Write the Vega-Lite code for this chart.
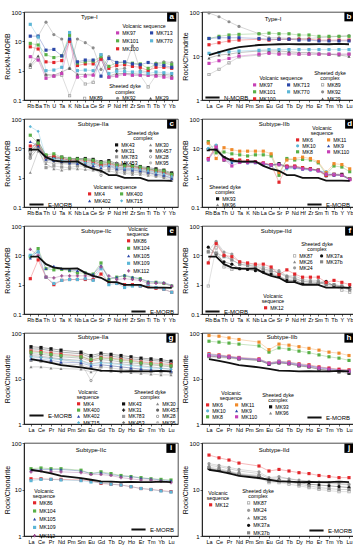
{
"$schema":"https://vega.github.io/schema/vega-lite/v6.json",
"padding":{"left":2,"top":8,"right":0,"bottom":0},
"config":{"font":"Liberation Sans","view":{"stroke":"#000","strokeWidth":0.7},
"axis":{"labelFontSize":6,"titleFontSize":7,"titleFontWeight":"normal","tickSize":2,"tickWidth":0.6,"domainWidth":0.7,"domainColor":"#000","tickColor":"#000","labelColor":"#000","titleColor":"#000","labelPadding":1,"titlePadding":1,"grid":false,"labelOverlap":false},
"axisX":{"labelAngle":0,"labelFontSize":5.5},
"axisY":{"minExtent":13,"maxExtent":13},
"legend":{"labelFontSize":5.2,"titleFontSize":5.2,"titleFontWeight":"normal","symbolSize":10,"labelOffset":2,"rowPadding":0.3,"columnPadding":8,"titlePadding":1,"padding":0,"labelColor":"#000","titleColor":"#000","titleAnchor":"middle","titleLineHeight":5.5,"symbolStrokeWidth":0.4}},
"datasets":{
"emn":[{"e":"Rb","v":9},{"e":"Ba","v":9.05},{"e":"Th","v":5},{"e":"U","v":3.83},{"e":"Ta","v":3.56},{"e":"K","v":3.5},{"e":"Nb","v":3.56},{"e":"La","v":2.52},{"e":"Ce","v":2},{"e":"Sr","v":1.72},{"e":"P","v":1.22},{"e":"Nd","v":1.23},{"e":"Hf","v":0.99},{"e":"Zr","v":0.99},{"e":"Sm","v":0.99},{"e":"Ti","v":0.79},{"e":"Tb","v":0.79},{"e":"Y","v":0.79},{"e":"Yb","v":0.78}],
"emc":[{"e":"La","v":26.6},{"e":"Ce","v":24.5},{"e":"Pr","v":22.1},{"e":"Nd","v":19.7},{"e":"Sm","v":17.6},{"e":"Eu","v":16.2},{"e":"Gd","v":14.9},{"e":"Tb","v":14.7},{"e":"Dy","v":14.4},{"e":"Ho","v":14.5},{"e":"Er","v":14.4},{"e":"Tm","v":14.4},{"e":"Yb","v":14.7},{"e":"Lu","v":14.4}],
"nmc":[{"e":"La","v":10.5},{"e":"Ce","v":12.2},{"e":"Pr","v":14.2},{"e":"Nd","v":16},{"e":"Sm","v":17.8},{"e":"Eu","v":18.1},{"e":"Gd","v":18.5},{"e":"Tb","v":18.6},{"e":"Dy","v":18.5},{"e":"Ho","v":18.5},{"e":"Er","v":18.6},{"e":"Tm","v":18.5},{"e":"Yb","v":18.9},{"e":"Lu","v":18.5}],
"a":[
{"s":"MK97","e":"Rb","v":3},{"s":"MK97","e":"Ba","v":2.3},{"s":"MK97","e":"Th","v":0.55},{"s":"MK97","e":"U","v":0.65},{"s":"MK97","e":"Ta","v":0.8},{"s":"MK97","e":"K","v":11},{"s":"MK97","e":"Nb","v":0.6},{"s":"MK97","e":"La","v":0.65},{"s":"MK97","e":"Ce","v":0.7},{"s":"MK97","e":"Sr","v":2.5},{"s":"MK97","e":"P","v":0.6},{"s":"MK97","e":"Nd","v":0.65},{"s":"MK97","e":"Hf","v":0.75},{"s":"MK97","e":"Zr","v":0.7},{"s":"MK97","e":"Sm","v":0.7},{"s":"MK97","e":"Ti","v":0.7},{"s":"MK97","e":"Tb","v":0.65},{"s":"MK97","e":"Y","v":0.6},{"s":"MK97","e":"Yb","v":0.55},
{"s":"MK100","e":"Rb","v":6.5},{"s":"MK100","e":"Ba","v":5.5},{"s":"MK100","e":"Th","v":2},{"s":"MK100","e":"U","v":1.9},{"s":"MK100","e":"Ta","v":2.2},{"s":"MK100","e":"K","v":10},{"s":"MK100","e":"Nb","v":1.5},{"s":"MK100","e":"La","v":1.7},{"s":"MK100","e":"Ce","v":1.7},{"s":"MK100","e":"Sr","v":2.5},{"s":"MK100","e":"P","v":1.2},{"s":"MK100","e":"Nd","v":1.5},{"s":"MK100","e":"Hf","v":1.6},{"s":"MK100","e":"Zr","v":1.4},{"s":"MK100","e":"Sm","v":1.3},{"s":"MK100","e":"Ti","v":1},{"s":"MK100","e":"Tb","v":1.3},{"s":"MK100","e":"Y","v":1.3},{"s":"MK100","e":"Yb","v":1.2},
{"s":"MK101","e":"Rb","v":8.5},{"s":"MK101","e":"Ba","v":7.5},{"s":"MK101","e":"Th","v":3.5},{"s":"MK101","e":"U","v":2.8},{"s":"MK101","e":"Ta","v":3.2},{"s":"MK101","e":"K","v":16},{"s":"MK101","e":"Nb","v":1.8},{"s":"MK101","e":"La","v":2},{"s":"MK101","e":"Ce","v":2.1},{"s":"MK101","e":"Sr","v":3},{"s":"MK101","e":"P","v":1.4},{"s":"MK101","e":"Nd","v":1.9},{"s":"MK101","e":"Hf","v":1.9},{"s":"MK101","e":"Zr","v":1.8},{"s":"MK101","e":"Sm","v":1.7},{"s":"MK101","e":"Ti","v":1.2},{"s":"MK101","e":"Tb","v":1.7},{"s":"MK101","e":"Y","v":1.8},{"s":"MK101","e":"Yb","v":1.6},
{"s":"MK713","e":"Rb","v":15},{"s":"MK713","e":"Ba","v":15},{"s":"MK713","e":"Th","v":5},{"s":"MK713","e":"U","v":5.3},{"s":"MK713","e":"Ta","v":3.2},{"s":"MK713","e":"K","v":12},{"s":"MK713","e":"Nb","v":2},{"s":"MK713","e":"La","v":2.3},{"s":"MK713","e":"Ce","v":2.3},{"s":"MK713","e":"Sr","v":0.65},{"s":"MK713","e":"P","v":2.6},{"s":"MK713","e":"Nd","v":1.9},{"s":"MK713","e":"Hf","v":2},{"s":"MK713","e":"Zr","v":1.7},{"s":"MK713","e":"Sm","v":1.6},{"s":"MK713","e":"Ti","v":1.9},{"s":"MK713","e":"Tb","v":1.6},{"s":"MK713","e":"Y","v":1.5},{"s":"MK713","e":"Yb","v":1.3},
{"s":"MK770","e":"Rb","v":38},{"s":"MK770","e":"Ba","v":14},{"s":"MK770","e":"Th","v":1},{"s":"MK770","e":"U","v":1.05},{"s":"MK770","e":"Ta","v":1.3},{"s":"MK770","e":"K","v":20},{"s":"MK770","e":"Nb","v":1},{"s":"MK770","e":"La","v":1.05},{"s":"MK770","e":"Ce","v":1},{"s":"MK770","e":"Sr","v":3.5},{"s":"MK770","e":"P","v":0.8},{"s":"MK770","e":"Nd","v":0.95},{"s":"MK770","e":"Hf","v":0.95},{"s":"MK770","e":"Zr","v":0.9},{"s":"MK770","e":"Sm","v":0.9},{"s":"MK770","e":"Ti","v":0.8},{"s":"MK770","e":"Tb","v":0.9},{"s":"MK770","e":"Y","v":0.85},{"s":"MK770","e":"Yb","v":0.8},
{"s":"MK89","e":"Rb","v":1.3},{"s":"MK89","e":"Ba","v":2.5},{"s":"MK89","e":"Th","v":0.7},{"s":"MK89","e":"U","v":0.65},{"s":"MK89","e":"Ta","v":0.7},{"s":"MK89","e":"K","v":0.14},{"s":"MK89","e":"Nb","v":0.7},{"s":"MK89","e":"La","v":0.35},{"s":"MK89","e":"Ce","v":0.4},{"s":"MK89","e":"Sr","v":3.5},{"s":"MK89","e":"P","v":0.6},{"s":"MK89","e":"Nd","v":0.7},{"s":"MK89","e":"Hf","v":0.8},{"s":"MK89","e":"Zr","v":0.7},{"s":"MK89","e":"Sm","v":0.7},{"s":"MK89","e":"Ti","v":0.28},{"s":"MK89","e":"Tb","v":0.7},{"s":"MK89","e":"Y","v":0.7},{"s":"MK89","e":"Yb","v":0.6},
{"s":"MK92","e":"Rb","v":1.6},{"s":"MK92","e":"Ba","v":15},{"s":"MK92","e":"Th","v":45},{"s":"MK92","e":"U","v":17},{"s":"MK92","e":"Ta","v":12},{"s":"MK92","e":"K","v":1.2},{"s":"MK92","e":"Nb","v":12},{"s":"MK92","e":"La","v":9},{"s":"MK92","e":"Ce","v":6},{"s":"MK92","e":"Sr","v":1.1},{"s":"MK92","e":"P","v":3},{"s":"MK92","e":"Nd","v":1.1},{"s":"MK92","e":"Hf","v":1.2},{"s":"MK92","e":"Zr","v":7},{"s":"MK92","e":"Sm","v":1},{"s":"MK92","e":"Ti","v":0.9},{"s":"MK92","e":"Tb","v":1.8},{"s":"MK92","e":"Y","v":2},{"s":"MK92","e":"Yb","v":1.9},
{"s":"MK29","e":"Rb","v":1.5},{"s":"MK29","e":"Ba","v":3.2},{"s":"MK29","e":"Th","v":0.75},{"s":"MK29","e":"U","v":0.7},{"s":"MK29","e":"Ta","v":0.9},{"s":"MK29","e":"K","v":1.2},{"s":"MK29","e":"Nb","v":0.75},{"s":"MK29","e":"La","v":0.75},{"s":"MK29","e":"Ce","v":0.75},{"s":"MK29","e":"Sr","v":2.5},{"s":"MK29","e":"P","v":0.65},{"s":"MK29","e":"Nd","v":0.8},{"s":"MK29","e":"Hf","v":0.8},{"s":"MK29","e":"Zr","v":0.8},{"s":"MK29","e":"Sm","v":0.75},{"s":"MK29","e":"Ti","v":0.7},{"s":"MK29","e":"Tb","v":0.75},{"s":"MK29","e":"Y","v":0.75},{"s":"MK29","e":"Yb","v":0.7}],
"b":[
{"s":"MK97","e":"La","v":6.8},{"s":"MK97","e":"Ce","v":7.8},{"s":"MK97","e":"Pr","v":8.8},{"s":"MK97","e":"Nd","v":10},{"s":"MK97","e":"Sm","v":11},{"s":"MK97","e":"Eu","v":11.5},{"s":"MK97","e":"Gd","v":11},{"s":"MK97","e":"Tb","v":11},{"s":"MK97","e":"Dy","v":11},{"s":"MK97","e":"Ho","v":11},{"s":"MK97","e":"Er","v":11},{"s":"MK97","e":"Tm","v":11},{"s":"MK97","e":"Yb","v":11},{"s":"MK97","e":"Lu","v":11},
{"s":"MK100","e":"La","v":18},{"s":"MK100","e":"Ce","v":20},{"s":"MK100","e":"Pr","v":22},{"s":"MK100","e":"Nd","v":23},{"s":"MK100","e":"Sm","v":24},{"s":"MK100","e":"Eu","v":23},{"s":"MK100","e":"Gd","v":24},{"s":"MK100","e":"Tb","v":24},{"s":"MK100","e":"Dy","v":24},{"s":"MK100","e":"Ho","v":24},{"s":"MK100","e":"Er","v":23},{"s":"MK100","e":"Tm","v":23},{"s":"MK100","e":"Yb","v":23},{"s":"MK100","e":"Lu","v":23},
{"s":"MK101","e":"La","v":25},{"s":"MK101","e":"Ce","v":28},{"s":"MK101","e":"Pr","v":30},{"s":"MK101","e":"Nd","v":31},{"s":"MK101","e":"Sm","v":32},{"s":"MK101","e":"Eu","v":33},{"s":"MK101","e":"Gd","v":32},{"s":"MK101","e":"Tb","v":32},{"s":"MK101","e":"Dy","v":30},{"s":"MK101","e":"Ho","v":30},{"s":"MK101","e":"Er","v":28},{"s":"MK101","e":"Tm","v":28},{"s":"MK101","e":"Yb","v":28},{"s":"MK101","e":"Lu","v":28},
{"s":"MK713","e":"La","v":25},{"s":"MK713","e":"Ce","v":26},{"s":"MK713","e":"Pr","v":26},{"s":"MK713","e":"Nd","v":26},{"s":"MK713","e":"Sm","v":25},{"s":"MK713","e":"Eu","v":24},{"s":"MK713","e":"Gd","v":24},{"s":"MK713","e":"Tb","v":24},{"s":"MK713","e":"Dy","v":23},{"s":"MK713","e":"Ho","v":23},{"s":"MK713","e":"Er","v":22},{"s":"MK713","e":"Tm","v":22},{"s":"MK713","e":"Yb","v":22},{"s":"MK713","e":"Lu","v":22},
{"s":"MK770","e":"La","v":11.5},{"s":"MK770","e":"Ce","v":12},{"s":"MK770","e":"Pr","v":12.5},{"s":"MK770","e":"Nd","v":13},{"s":"MK770","e":"Sm","v":13.5},{"s":"MK770","e":"Eu","v":14},{"s":"MK770","e":"Gd","v":14},{"s":"MK770","e":"Tb","v":14},{"s":"MK770","e":"Dy","v":14},{"s":"MK770","e":"Ho","v":14},{"s":"MK770","e":"Er","v":14},{"s":"MK770","e":"Tm","v":14},{"s":"MK770","e":"Yb","v":14},{"s":"MK770","e":"Lu","v":14},
{"s":"MK89","e":"La","v":3.8},{"s":"MK89","e":"Ce","v":5},{"s":"MK89","e":"Pr","v":7},{"s":"MK89","e":"Nd","v":9.5},{"s":"MK89","e":"Sm","v":10.5},{"s":"MK89","e":"Eu","v":12},{"s":"MK89","e":"Gd","v":11.5},{"s":"MK89","e":"Tb","v":11.5},{"s":"MK89","e":"Dy","v":11},{"s":"MK89","e":"Ho","v":11},{"s":"MK89","e":"Er","v":11},{"s":"MK89","e":"Tm","v":11},{"s":"MK89","e":"Yb","v":11},{"s":"MK89","e":"Lu","v":11},
{"s":"MK92","e":"La","v":95},{"s":"MK92","e":"Ce","v":78},{"s":"MK92","e":"Pr","v":60},{"s":"MK92","e":"Nd","v":47},{"s":"MK92","e":"Sm","v":32},{"s":"MK92","e":"Eu","v":26},{"s":"MK92","e":"Gd","v":26},{"s":"MK92","e":"Tb","v":25},{"s":"MK92","e":"Dy","v":25},{"s":"MK92","e":"Ho","v":25},{"s":"MK92","e":"Er","v":26},{"s":"MK92","e":"Tm","v":27},{"s":"MK92","e":"Yb","v":28},{"s":"MK92","e":"Lu","v":29},
{"s":"MK29","e":"La","v":9},{"s":"MK29","e":"Ce","v":10.5},{"s":"MK29","e":"Pr","v":11},{"s":"MK29","e":"Nd","v":12},{"s":"MK29","e":"Sm","v":13},{"s":"MK29","e":"Eu","v":13},{"s":"MK29","e":"Gd","v":13},{"s":"MK29","e":"Tb","v":12.5},{"s":"MK29","e":"Dy","v":12},{"s":"MK29","e":"Ho","v":12},{"s":"MK29","e":"Er","v":11.5},{"s":"MK29","e":"Tm","v":11},{"s":"MK29","e":"Yb","v":10.5},{"s":"MK29","e":"Lu","v":9.8}],
"c":[
{"s":"MK43","e":"Rb","v":9},{"s":"MK43","e":"Ba","v":18},{"s":"MK43","e":"Th","v":5.5},{"s":"MK43","e":"U","v":5},{"s":"MK43","e":"Ta","v":5},{"s":"MK43","e":"K","v":4.5},{"s":"MK43","e":"Nb","v":4.5},{"s":"MK43","e":"La","v":4.5},{"s":"MK43","e":"Ce","v":4.2},{"s":"MK43","e":"Sr","v":3.5},{"s":"MK43","e":"P","v":3.8},{"s":"MK43","e":"Nd","v":3},{"s":"MK43","e":"Hf","v":2.8},{"s":"MK43","e":"Zr","v":2.6},{"s":"MK43","e":"Sm","v":2.4},{"s":"MK43","e":"Ti","v":2.2},{"s":"MK43","e":"Tb","v":2},{"s":"MK43","e":"Y","v":1.8},{"s":"MK43","e":"Yb","v":1.45},
{"s":"MK31","e":"Rb","v":8},{"s":"MK31","e":"Ba","v":14},{"s":"MK31","e":"Th","v":5},{"s":"MK31","e":"U","v":4.5},{"s":"MK31","e":"Ta","v":4.5},{"s":"MK31","e":"K","v":4},{"s":"MK31","e":"Nb","v":4.2},{"s":"MK31","e":"La","v":4},{"s":"MK31","e":"Ce","v":3.8},{"s":"MK31","e":"Sr","v":3},{"s":"MK31","e":"P","v":3.3},{"s":"MK31","e":"Nd","v":2.7},{"s":"MK31","e":"Hf","v":2.5},{"s":"MK31","e":"Zr","v":2.4},{"s":"MK31","e":"Sm","v":2.2},{"s":"MK31","e":"Ti","v":2},{"s":"MK31","e":"Tb","v":1.8},{"s":"MK31","e":"Y","v":1.6},{"s":"MK31","e":"Yb","v":1.35},
{"s":"MK783","e":"Rb","v":5},{"s":"MK783","e":"Ba","v":10},{"s":"MK783","e":"Th","v":2.2},{"s":"MK783","e":"U","v":2.5},{"s":"MK783","e":"Ta","v":2.3},{"s":"MK783","e":"K","v":2.2},{"s":"MK783","e":"Nb","v":2.5},{"s":"MK783","e":"La","v":2.4},{"s":"MK783","e":"Ce","v":2.2},{"s":"MK783","e":"Sr","v":1.8},{"s":"MK783","e":"P","v":2},{"s":"MK783","e":"Nd","v":1.8},{"s":"MK783","e":"Hf","v":1.6},{"s":"MK783","e":"Zr","v":1.5},{"s":"MK783","e":"Sm","v":1.5},{"s":"MK783","e":"Ti","v":1.4},{"s":"MK783","e":"Tb","v":1.2},{"s":"MK783","e":"Y","v":1.1},{"s":"MK783","e":"Yb","v":0.9},
{"s":"MK453","e":"Rb","v":6},{"s":"MK453","e":"Ba","v":12},{"s":"MK453","e":"Th","v":4},{"s":"MK453","e":"U","v":3.5},{"s":"MK453","e":"Ta","v":3.2},{"s":"MK453","e":"K","v":3},{"s":"MK453","e":"Nb","v":3.2},{"s":"MK453","e":"La","v":3},{"s":"MK453","e":"Ce","v":2.8},{"s":"MK453","e":"Sr","v":2.5},{"s":"MK453","e":"P","v":2.6},{"s":"MK453","e":"Nd","v":2.2},{"s":"MK453","e":"Hf","v":2},{"s":"MK453","e":"Zr","v":1.9},{"s":"MK453","e":"Sm","v":1.8},{"s":"MK453","e":"Ti","v":1.6},{"s":"MK453","e":"Tb","v":1.5},{"s":"MK453","e":"Y","v":1.4},{"s":"MK453","e":"Yb","v":1.1},
{"s":"MK30","e":"Rb","v":1.5},{"s":"MK30","e":"Ba","v":8},{"s":"MK30","e":"Th","v":3},{"s":"MK30","e":"U","v":2},{"s":"MK30","e":"Ta","v":1.8},{"s":"MK30","e":"K","v":2},{"s":"MK30","e":"Nb","v":2},{"s":"MK30","e":"La","v":1.9},{"s":"MK30","e":"Ce","v":1.8},{"s":"MK30","e":"Sr","v":1.6},{"s":"MK30","e":"P","v":1.7},{"s":"MK30","e":"Nd","v":1.5},{"s":"MK30","e":"Hf","v":1.4},{"s":"MK30","e":"Zr","v":1.3},{"s":"MK30","e":"Sm","v":1.3},{"s":"MK30","e":"Ti","v":1.2},{"s":"MK30","e":"Tb","v":1.1},{"s":"MK30","e":"Y","v":1},{"s":"MK30","e":"Yb","v":0.8},
{"s":"MK457","e":"Rb","v":7},{"s":"MK457","e":"Ba","v":13},{"s":"MK457","e":"Th","v":4.5},{"s":"MK457","e":"U","v":4},{"s":"MK457","e":"Ta","v":3.8},{"s":"MK457","e":"K","v":3.5},{"s":"MK457","e":"Nb","v":3.6},{"s":"MK457","e":"La","v":3.4},{"s":"MK457","e":"Ce","v":3.1},{"s":"MK457","e":"Sr","v":2.8},{"s":"MK457","e":"P","v":2.9},{"s":"MK457","e":"Nd","v":2.4},{"s":"MK457","e":"Hf","v":2.2},{"s":"MK457","e":"Zr","v":2.1},{"s":"MK457","e":"Sm","v":2},{"s":"MK457","e":"Ti","v":1.8},{"s":"MK457","e":"Tb","v":1.6},{"s":"MK457","e":"Y","v":1.5},{"s":"MK457","e":"Yb","v":1.2},
{"s":"MK28","e":"Rb","v":4.5},{"s":"MK28","e":"Ba","v":11},{"s":"MK28","e":"Th","v":3.5},{"s":"MK28","e":"U","v":3},{"s":"MK28","e":"Ta","v":3},{"s":"MK28","e":"K","v":2.8},{"s":"MK28","e":"Nb","v":2.8},{"s":"MK28","e":"La","v":2.6},{"s":"MK28","e":"Ce","v":2.3},{"s":"MK28","e":"Sr","v":1.2},{"s":"MK28","e":"P","v":2.2},{"s":"MK28","e":"Nd","v":2},{"s":"MK28","e":"Hf","v":1.8},{"s":"MK28","e":"Zr","v":1.7},{"s":"MK28","e":"Sm","v":1.6},{"s":"MK28","e":"Ti","v":1.5},{"s":"MK28","e":"Tb","v":1.3},{"s":"MK28","e":"Y","v":1.2},{"s":"MK28","e":"Yb","v":1},
{"s":"MK95","e":"Rb","v":7.5},{"s":"MK95","e":"Ba","v":15},{"s":"MK95","e":"Th","v":4.8},{"s":"MK95","e":"U","v":4.2},{"s":"MK95","e":"Ta","v":4},{"s":"MK95","e":"K","v":3.8},{"s":"MK95","e":"Nb","v":3.9},{"s":"MK95","e":"La","v":3.7},{"s":"MK95","e":"Ce","v":3.4},{"s":"MK95","e":"Sr","v":3.2},{"s":"MK95","e":"P","v":3.1},{"s":"MK95","e":"Nd","v":2.6},{"s":"MK95","e":"Hf","v":2.4},{"s":"MK95","e":"Zr","v":2.3},{"s":"MK95","e":"Sm","v":2.1},{"s":"MK95","e":"Ti","v":1.9},{"s":"MK95","e":"Tb","v":1.7},{"s":"MK95","e":"Y","v":1.6},{"s":"MK95","e":"Yb","v":1.3},
{"s":"MK4","e":"Rb","v":12},{"s":"MK4","e":"Ba","v":13},{"s":"MK4","e":"Th","v":5},{"s":"MK4","e":"U","v":5.5},{"s":"MK4","e":"Ta","v":4.5},{"s":"MK4","e":"K","v":4},{"s":"MK4","e":"Nb","v":4},{"s":"MK4","e":"La","v":3.8},{"s":"MK4","e":"Ce","v":3.5},{"s":"MK4","e":"Sr","v":2.6},{"s":"MK4","e":"P","v":3},{"s":"MK4","e":"Nd","v":2.6},{"s":"MK4","e":"Hf","v":2.5},{"s":"MK4","e":"Zr","v":2.4},{"s":"MK4","e":"Sm","v":2.1},{"s":"MK4","e":"Ti","v":1.9},{"s":"MK4","e":"Tb","v":1.7},{"s":"MK4","e":"Y","v":1.5},{"s":"MK4","e":"Yb","v":1.2},
{"s":"MK400","e":"Rb","v":28},{"s":"MK400","e":"Ba","v":15},{"s":"MK400","e":"Th","v":6},{"s":"MK400","e":"U","v":6.5},{"s":"MK400","e":"Ta","v":5},{"s":"MK400","e":"K","v":4.5},{"s":"MK400","e":"Nb","v":4.3},{"s":"MK400","e":"La","v":4.2},{"s":"MK400","e":"Ce","v":3.9},{"s":"MK400","e":"Sr","v":3.2},{"s":"MK400","e":"P","v":3.4},{"s":"MK400","e":"Nd","v":2.8},{"s":"MK400","e":"Hf","v":2.6},{"s":"MK400","e":"Zr","v":2.5},{"s":"MK400","e":"Sm","v":2.3},{"s":"MK400","e":"Ti","v":2},{"s":"MK400","e":"Tb","v":1.8},{"s":"MK400","e":"Y","v":1.7},{"s":"MK400","e":"Yb","v":1.3},
{"s":"MK402","e":"Rb","v":17},{"s":"MK402","e":"Ba","v":12},{"s":"MK402","e":"Th","v":4.2},{"s":"MK402","e":"U","v":3.8},{"s":"MK402","e":"Ta","v":3.5},{"s":"MK402","e":"K","v":3.2},{"s":"MK402","e":"Nb","v":3},{"s":"MK402","e":"La","v":2.8},{"s":"MK402","e":"Ce","v":2.5},{"s":"MK402","e":"Sr","v":2.2},{"s":"MK402","e":"P","v":2.5},{"s":"MK402","e":"Nd","v":2},{"s":"MK402","e":"Hf","v":1.9},{"s":"MK402","e":"Zr","v":1.8},{"s":"MK402","e":"Sm","v":1.7},{"s":"MK402","e":"Ti","v":1.5},{"s":"MK402","e":"Tb","v":1.3},{"s":"MK402","e":"Y","v":1.2},{"s":"MK402","e":"Yb","v":0.95},
{"s":"MK715","e":"Rb","v":55},{"s":"MK715","e":"Ba","v":38},{"s":"MK715","e":"Th","v":5},{"s":"MK715","e":"U","v":4.5},{"s":"MK715","e":"Ta","v":4},{"s":"MK715","e":"K","v":3.6},{"s":"MK715","e":"Nb","v":3.5},{"s":"MK715","e":"La","v":3.3},{"s":"MK715","e":"Ce","v":3},{"s":"MK715","e":"Sr","v":2.4},{"s":"MK715","e":"P","v":2.7},{"s":"MK715","e":"Nd","v":2.3},{"s":"MK715","e":"Hf","v":2.1},{"s":"MK715","e":"Zr","v":2},{"s":"MK715","e":"Sm","v":1.9},{"s":"MK715","e":"Ti","v":1.7},{"s":"MK715","e":"Tb","v":1.5},{"s":"MK715","e":"Y","v":1.35},{"s":"MK715","e":"Yb","v":1.1}],
"d":[
{"s":"MK6","e":"Rb","v":4.5},{"s":"MK6","e":"Ba","v":12},{"s":"MK6","e":"Th","v":4},{"s":"MK6","e":"U","v":4.2},{"s":"MK6","e":"Ta","v":4},{"s":"MK6","e":"K","v":3.8},{"s":"MK6","e":"Nb","v":3.5},{"s":"MK6","e":"La","v":3.2},{"s":"MK6","e":"Ce","v":2.8},{"s":"MK6","e":"Sr","v":0.7},{"s":"MK6","e":"P","v":2.5},{"s":"MK6","e":"Nd","v":2.5},{"s":"MK6","e":"Hf","v":2.2},{"s":"MK6","e":"Zr","v":2},{"s":"MK6","e":"Sm","v":1.8},{"s":"MK6","e":"Ti","v":1.2},{"s":"MK6","e":"Tb","v":1.3},{"s":"MK6","e":"Y","v":1.2},{"s":"MK6","e":"Yb","v":0.9},
{"s":"MK10","e":"Rb","v":10},{"s":"MK10","e":"Ba","v":13},{"s":"MK10","e":"Th","v":4.5},{"s":"MK10","e":"U","v":3.5},{"s":"MK10","e":"Ta","v":3.5},{"s":"MK10","e":"K","v":3.2},{"s":"MK10","e":"Nb","v":3.3},{"s":"MK10","e":"La","v":3},{"s":"MK10","e":"Ce","v":2.6},{"s":"MK10","e":"Sr","v":1.5},{"s":"MK10","e":"P","v":2},{"s":"MK10","e":"Nd","v":2.1},{"s":"MK10","e":"Hf","v":1.9},{"s":"MK10","e":"Zr","v":1.8},{"s":"MK10","e":"Sm","v":1.7},{"s":"MK10","e":"Ti","v":1.6},{"s":"MK10","e":"Tb","v":1.3},{"s":"MK10","e":"Y","v":1.2},{"s":"MK10","e":"Yb","v":0.9},
{"s":"MK8","e":"Rb","v":17},{"s":"MK8","e":"Ba","v":7},{"s":"MK8","e":"Th","v":7.5},{"s":"MK8","e":"U","v":6.5},{"s":"MK8","e":"Ta","v":6},{"s":"MK8","e":"K","v":5.5},{"s":"MK8","e":"Nb","v":6},{"s":"MK8","e":"La","v":6},{"s":"MK8","e":"Ce","v":5.5},{"s":"MK8","e":"Sr","v":1.2},{"s":"MK8","e":"P","v":4.5},{"s":"MK8","e":"Nd","v":4},{"s":"MK8","e":"Hf","v":4.2},{"s":"MK8","e":"Zr","v":4},{"s":"MK8","e":"Sm","v":3.2},{"s":"MK8","e":"Ti","v":1.3},{"s":"MK8","e":"Tb","v":2.5},{"s":"MK8","e":"Y","v":2.3},{"s":"MK8","e":"Yb","v":1.6},
{"s":"MK11","e":"Rb","v":15},{"s":"MK11","e":"Ba","v":4.5},{"s":"MK11","e":"Th","v":10.5},{"s":"MK11","e":"U","v":9},{"s":"MK11","e":"Ta","v":8},{"s":"MK11","e":"K","v":8},{"s":"MK11","e":"Nb","v":8},{"s":"MK11","e":"La","v":8},{"s":"MK11","e":"Ce","v":6.5},{"s":"MK11","e":"Sr","v":1.5},{"s":"MK11","e":"P","v":4},{"s":"MK11","e":"Nd","v":4.5},{"s":"MK11","e":"Hf","v":5},{"s":"MK11","e":"Zr","v":4.5},{"s":"MK11","e":"Sm","v":3.5},{"s":"MK11","e":"Ti","v":1.5},{"s":"MK11","e":"Tb","v":3},{"s":"MK11","e":"Y","v":2.8},{"s":"MK11","e":"Yb","v":2},
{"s":"MK9","e":"Rb","v":4},{"s":"MK9","e":"Ba","v":10},{"s":"MK9","e":"Th","v":4},{"s":"MK9","e":"U","v":3.2},{"s":"MK9","e":"Ta","v":3.5},{"s":"MK9","e":"K","v":3.2},{"s":"MK9","e":"Nb","v":3.2},{"s":"MK9","e":"La","v":2.9},{"s":"MK9","e":"Ce","v":2.6},{"s":"MK9","e":"Sr","v":3},{"s":"MK9","e":"P","v":2.2},{"s":"MK9","e":"Nd","v":2.2},{"s":"MK9","e":"Hf","v":2},{"s":"MK9","e":"Zr","v":1.9},{"s":"MK9","e":"Sm","v":1.8},{"s":"MK9","e":"Ti","v":1.4},{"s":"MK9","e":"Tb","v":1.2},{"s":"MK9","e":"Y","v":1.2},{"s":"MK9","e":"Yb","v":0.85},
{"s":"MK110","e":"Rb","v":4.2},{"s":"MK110","e":"Ba","v":11},{"s":"MK110","e":"Th","v":4.2},{"s":"MK110","e":"U","v":2.5},{"s":"MK110","e":"Ta","v":3.3},{"s":"MK110","e":"K","v":3.3},{"s":"MK110","e":"Nb","v":3.4},{"s":"MK110","e":"La","v":3.1},{"s":"MK110","e":"Ce","v":2.7},{"s":"MK110","e":"Sr","v":2.8},{"s":"MK110","e":"P","v":2.3},{"s":"MK110","e":"Nd","v":2.3},{"s":"MK110","e":"Hf","v":2},{"s":"MK110","e":"Zr","v":1.9},{"s":"MK110","e":"Sm","v":1.7},{"s":"MK110","e":"Ti","v":1.3},{"s":"MK110","e":"Tb","v":1.25},{"s":"MK110","e":"Y","v":1.2},{"s":"MK110","e":"Yb","v":0.85},
{"s":"MK93","e":"Rb","v":9},{"s":"MK93","e":"Ba","v":9},{"s":"MK93","e":"Th","v":4.8},{"s":"MK93","e":"U","v":4},{"s":"MK93","e":"Ta","v":3.5},{"s":"MK93","e":"K","v":3.5},{"s":"MK93","e":"Nb","v":3.4},{"s":"MK93","e":"La","v":3},{"s":"MK93","e":"Ce","v":2.7},{"s":"MK93","e":"Sr","v":3},{"s":"MK93","e":"P","v":2.4},{"s":"MK93","e":"Nd","v":2.4},{"s":"MK93","e":"Hf","v":2.1},{"s":"MK93","e":"Zr","v":2},{"s":"MK93","e":"Sm","v":1.8},{"s":"MK93","e":"Ti","v":1.2},{"s":"MK93","e":"Tb","v":1.3},{"s":"MK93","e":"Y","v":1.3},{"s":"MK93","e":"Yb","v":0.9},
{"s":"MK96","e":"Rb","v":10},{"s":"MK96","e":"Ba","v":8},{"s":"MK96","e":"Th","v":4.6},{"s":"MK96","e":"U","v":3.8},{"s":"MK96","e":"Ta","v":3.4},{"s":"MK96","e":"K","v":3.4},{"s":"MK96","e":"Nb","v":3.3},{"s":"MK96","e":"La","v":3},{"s":"MK96","e":"Ce","v":2.6},{"s":"MK96","e":"Sr","v":2.7},{"s":"MK96","e":"P","v":2.2},{"s":"MK96","e":"Nd","v":2.2},{"s":"MK96","e":"Hf","v":2},{"s":"MK96","e":"Zr","v":1.9},{"s":"MK96","e":"Sm","v":1.7},{"s":"MK96","e":"Ti","v":1.1},{"s":"MK96","e":"Tb","v":1.2},{"s":"MK96","e":"Y","v":1.2},{"s":"MK96","e":"Yb","v":0.85}],
"e":[
{"s":"MK86","e":"Rb","v":1.6},{"s":"MK86","e":"Ba","v":7},{"s":"MK86","e":"Th","v":1.8},{"s":"MK86","e":"U","v":1},{"s":"MK86","e":"Ta","v":1.4},{"s":"MK86","e":"K","v":1.5},{"s":"MK86","e":"Nb","v":1.5},{"s":"MK86","e":"La","v":1.5},{"s":"MK86","e":"Ce","v":1.5},{"s":"MK86","e":"Sr","v":2.3},{"s":"MK86","e":"P","v":1.2},{"s":"MK86","e":"Nd","v":1.1},{"s":"MK86","e":"Hf","v":1},{"s":"MK86","e":"Zr","v":1},{"s":"MK86","e":"Sm","v":0.9},{"s":"MK86","e":"Ti","v":0.9},{"s":"MK86","e":"Tb","v":0.75},{"s":"MK86","e":"Y","v":0.7},{"s":"MK86","e":"Yb","v":0.55},
{"s":"MK104","e":"Rb","v":9},{"s":"MK104","e":"Ba","v":17},{"s":"MK104","e":"Th","v":3.5},{"s":"MK104","e":"U","v":3.2},{"s":"MK104","e":"Ta","v":3.3},{"s":"MK104","e":"K","v":3},{"s":"MK104","e":"Nb","v":2.5},{"s":"MK104","e":"La","v":2.5},{"s":"MK104","e":"Ce","v":2.3},{"s":"MK104","e":"Sr","v":5.5},{"s":"MK104","e":"P","v":1.5},{"s":"MK104","e":"Nd","v":1.8},{"s":"MK104","e":"Hf","v":2},{"s":"MK104","e":"Zr","v":1.7},{"s":"MK104","e":"Sm","v":1.6},{"s":"MK104","e":"Ti","v":1.2},{"s":"MK104","e":"Tb","v":1.2},{"s":"MK104","e":"Y","v":1.1},{"s":"MK104","e":"Yb","v":0.9},
{"s":"MK105","e":"Rb","v":8},{"s":"MK105","e":"Ba","v":14},{"s":"MK105","e":"Th","v":3.5},{"s":"MK105","e":"U","v":4.3},{"s":"MK105","e":"Ta","v":3.5},{"s":"MK105","e":"K","v":3.2},{"s":"MK105","e":"Nb","v":3},{"s":"MK105","e":"La","v":2.6},{"s":"MK105","e":"Ce","v":2.3},{"s":"MK105","e":"Sr","v":4.5},{"s":"MK105","e":"P","v":1.6},{"s":"MK105","e":"Nd","v":1.8},{"s":"MK105","e":"Hf","v":2.1},{"s":"MK105","e":"Zr","v":1.8},{"s":"MK105","e":"Sm","v":1.6},{"s":"MK105","e":"Ti","v":1.3},{"s":"MK105","e":"Tb","v":1.25},{"s":"MK105","e":"Y","v":1.2},{"s":"MK105","e":"Yb","v":0.95},
{"s":"MK109","e":"Rb","v":10},{"s":"MK109","e":"Ba","v":13},{"s":"MK109","e":"Th","v":1.8},{"s":"MK109","e":"U","v":1.1},{"s":"MK109","e":"Ta","v":1.4},{"s":"MK109","e":"K","v":1.5},{"s":"MK109","e":"Nb","v":1.5},{"s":"MK109","e":"La","v":1.6},{"s":"MK109","e":"Ce","v":1.4},{"s":"MK109","e":"Sr","v":3.5},{"s":"MK109","e":"P","v":1},{"s":"MK109","e":"Nd","v":1.1},{"s":"MK109","e":"Hf","v":0.8},{"s":"MK109","e":"Zr","v":0.9},{"s":"MK109","e":"Sm","v":0.9},{"s":"MK109","e":"Ti","v":1},{"s":"MK109","e":"Tb","v":0.8},{"s":"MK109","e":"Y","v":0.7},{"s":"MK109","e":"Yb","v":0.55},
{"s":"MK112","e":"Rb","v":16},{"s":"MK112","e":"Ba","v":10},{"s":"MK112","e":"Th","v":1.8},{"s":"MK112","e":"U","v":1.7},{"s":"MK112","e":"Ta","v":2},{"s":"MK112","e":"K","v":2},{"s":"MK112","e":"Nb","v":2},{"s":"MK112","e":"La","v":2},{"s":"MK112","e":"Ce","v":1.9},{"s":"MK112","e":"Sr","v":4},{"s":"MK112","e":"P","v":2},{"s":"MK112","e":"Nd","v":1.5},{"s":"MK112","e":"Hf","v":1.6},{"s":"MK112","e":"Zr","v":1.5},{"s":"MK112","e":"Sm","v":1.4},{"s":"MK112","e":"Ti","v":1.1},{"s":"MK112","e":"Tb","v":1.1},{"s":"MK112","e":"Y","v":1.1},{"s":"MK112","e":"Yb","v":0.9}],
"f":[
{"s":"MK87","e":"Rb","v":0.9},{"s":"MK87","e":"Ba","v":18},{"s":"MK87","e":"Th","v":4},{"s":"MK87","e":"U","v":3.3},{"s":"MK87","e":"Ta","v":3.5},{"s":"MK87","e":"K","v":3.3},{"s":"MK87","e":"Nb","v":3.3},{"s":"MK87","e":"La","v":3},{"s":"MK87","e":"Ce","v":2.7},{"s":"MK87","e":"Sr","v":2},{"s":"MK87","e":"P","v":1.5},{"s":"MK87","e":"Nd","v":1.4},{"s":"MK87","e":"Hf","v":1.1},{"s":"MK87","e":"Zr","v":1.1},{"s":"MK87","e":"Sm","v":1.1},{"s":"MK87","e":"Ti","v":1.1},{"s":"MK87","e":"Tb","v":0.9},{"s":"MK87","e":"Y","v":0.65},{"s":"MK87","e":"Yb","v":0.55},
{"s":"MK24","e":"Rb","v":14},{"s":"MK24","e":"Ba","v":30},{"s":"MK24","e":"Th","v":13},{"s":"MK24","e":"U","v":11},{"s":"MK24","e":"Ta","v":6},{"s":"MK24","e":"K","v":5},{"s":"MK24","e":"Nb","v":5},{"s":"MK24","e":"La","v":4},{"s":"MK24","e":"Ce","v":3.5},{"s":"MK24","e":"Sr","v":3},{"s":"MK24","e":"P","v":2},{"s":"MK24","e":"Nd","v":2},{"s":"MK24","e":"Hf","v":1.5},{"s":"MK24","e":"Zr","v":1.4},{"s":"MK24","e":"Sm","v":1.4},{"s":"MK24","e":"Ti","v":1.1},{"s":"MK24","e":"Tb","v":1},{"s":"MK24","e":"Y","v":0.9},{"s":"MK24","e":"Yb","v":0.7},
{"s":"MK26","e":"Rb","v":6},{"s":"MK26","e":"Ba","v":28},{"s":"MK26","e":"Th","v":11},{"s":"MK26","e":"U","v":7},{"s":"MK26","e":"Ta","v":5},{"s":"MK26","e":"K","v":4.5},{"s":"MK26","e":"Nb","v":4.5},{"s":"MK26","e":"La","v":3.5},{"s":"MK26","e":"Ce","v":3},{"s":"MK26","e":"Sr","v":2.5},{"s":"MK26","e":"P","v":2},{"s":"MK26","e":"Nd","v":1.7},{"s":"MK26","e":"Hf","v":1.3},{"s":"MK26","e":"Zr","v":1.3},{"s":"MK26","e":"Sm","v":1.2},{"s":"MK26","e":"Ti","v":1},{"s":"MK26","e":"Tb","v":0.95},{"s":"MK26","e":"Y","v":0.8},{"s":"MK26","e":"Yb","v":0.65},
{"s":"MK37a","e":"Rb","v":19},{"s":"MK37a","e":"Ba","v":11},{"s":"MK37a","e":"Th","v":6},{"s":"MK37a","e":"U","v":5},{"s":"MK37a","e":"Ta","v":3.5},{"s":"MK37a","e":"K","v":3.3},{"s":"MK37a","e":"Nb","v":3},{"s":"MK37a","e":"La","v":2.7},{"s":"MK37a","e":"Ce","v":2.3},{"s":"MK37a","e":"Sr","v":1.9},{"s":"MK37a","e":"P","v":1.4},{"s":"MK37a","e":"Nd","v":1.4},{"s":"MK37a","e":"Hf","v":1.1},{"s":"MK37a","e":"Zr","v":1.1},{"s":"MK37a","e":"Sm","v":1.1},{"s":"MK37a","e":"Ti","v":1.3},{"s":"MK37a","e":"Tb","v":0.9},{"s":"MK37a","e":"Y","v":0.85},{"s":"MK37a","e":"Yb","v":0.8},
{"s":"MK37b","e":"Rb","v":13},{"s":"MK37b","e":"Ba","v":12},{"s":"MK37b","e":"Th","v":9},{"s":"MK37b","e":"U","v":7},{"s":"MK37b","e":"Ta","v":5},{"s":"MK37b","e":"K","v":4.5},{"s":"MK37b","e":"Nb","v":4},{"s":"MK37b","e":"La","v":3.3},{"s":"MK37b","e":"Ce","v":3},{"s":"MK37b","e":"Sr","v":2.5},{"s":"MK37b","e":"P","v":1.8},{"s":"MK37b","e":"Nd","v":1.6},{"s":"MK37b","e":"Hf","v":1.3},{"s":"MK37b","e":"Zr","v":1.2},{"s":"MK37b","e":"Sm","v":1.2},{"s":"MK37b","e":"Ti","v":1},{"s":"MK37b","e":"Tb","v":1},{"s":"MK37b","e":"Y","v":0.9},{"s":"MK37b","e":"Yb","v":0.7},
{"s":"MK12","e":"Rb","v":5.5},{"s":"MK12","e":"Ba","v":25},{"s":"MK12","e":"Th","v":10},{"s":"MK12","e":"U","v":9},{"s":"MK12","e":"Ta","v":6},{"s":"MK12","e":"K","v":5.5},{"s":"MK12","e":"Nb","v":5},{"s":"MK12","e":"La","v":5},{"s":"MK12","e":"Ce","v":4},{"s":"MK12","e":"Sr","v":2.2},{"s":"MK12","e":"P","v":3.2},{"s":"MK12","e":"Nd","v":2.3},{"s":"MK12","e":"Hf","v":1.8},{"s":"MK12","e":"Zr","v":1.8},{"s":"MK12","e":"Sm","v":1.8},{"s":"MK12","e":"Ti","v":1.2},{"s":"MK12","e":"Tb","v":1.4},{"s":"MK12","e":"Y","v":1.2},{"s":"MK12","e":"Yb","v":1}],
"g":[
{"s":"MK43","e":"La","v":50},{"s":"MK43","e":"Ce","v":48},{"s":"MK43","e":"Pr","v":45},{"s":"MK43","e":"Nd","v":42},{"s":"MK43","e":"Sm","v":38},{"s":"MK43","e":"Eu","v":32},{"s":"MK43","e":"Gd","v":36},{"s":"MK43","e":"Tb","v":34},{"s":"MK43","e":"Dy","v":32},{"s":"MK43","e":"Ho","v":30},{"s":"MK43","e":"Er","v":28},{"s":"MK43","e":"Tm","v":27},{"s":"MK43","e":"Yb","v":26},{"s":"MK43","e":"Lu","v":24},
{"s":"MK31","e":"La","v":45},{"s":"MK31","e":"Ce","v":44},{"s":"MK31","e":"Pr","v":41},{"s":"MK31","e":"Nd","v":38},{"s":"MK31","e":"Sm","v":35},{"s":"MK31","e":"Eu","v":29},{"s":"MK31","e":"Gd","v":33},{"s":"MK31","e":"Tb","v":31},{"s":"MK31","e":"Dy","v":29},{"s":"MK31","e":"Ho","v":27},{"s":"MK31","e":"Er","v":26},{"s":"MK31","e":"Tm","v":25},{"s":"MK31","e":"Yb","v":24},{"s":"MK31","e":"Lu","v":22},
{"s":"MK95","e":"La","v":42},{"s":"MK95","e":"Ce","v":40},{"s":"MK95","e":"Pr","v":38},{"s":"MK95","e":"Nd","v":35},{"s":"MK95","e":"Sm","v":32},{"s":"MK95","e":"Eu","v":27},{"s":"MK95","e":"Gd","v":31},{"s":"MK95","e":"Tb","v":29},{"s":"MK95","e":"Dy","v":27},{"s":"MK95","e":"Ho","v":26},{"s":"MK95","e":"Er","v":24},{"s":"MK95","e":"Tm","v":23},{"s":"MK95","e":"Yb","v":22},{"s":"MK95","e":"Lu","v":21},
{"s":"MK4","e":"La","v":40},{"s":"MK4","e":"Ce","v":39},{"s":"MK4","e":"Pr","v":36},{"s":"MK4","e":"Nd","v":34},{"s":"MK4","e":"Sm","v":31},{"s":"MK4","e":"Eu","v":25},{"s":"MK4","e":"Gd","v":29},{"s":"MK4","e":"Tb","v":28},{"s":"MK4","e":"Dy","v":26},{"s":"MK4","e":"Ho","v":25},{"s":"MK4","e":"Er","v":23},{"s":"MK4","e":"Tm","v":22},{"s":"MK4","e":"Yb","v":21},{"s":"MK4","e":"Lu","v":20},
{"s":"MK400","e":"La","v":38},{"s":"MK400","e":"Ce","v":37},{"s":"MK400","e":"Pr","v":34},{"s":"MK400","e":"Nd","v":32},{"s":"MK400","e":"Sm","v":30},{"s":"MK400","e":"Eu","v":26},{"s":"MK400","e":"Gd","v":28},{"s":"MK400","e":"Tb","v":27},{"s":"MK400","e":"Dy","v":25},{"s":"MK400","e":"Ho","v":24},{"s":"MK400","e":"Er","v":22},{"s":"MK400","e":"Tm","v":21},{"s":"MK400","e":"Yb","v":20},{"s":"MK400","e":"Lu","v":19},
{"s":"MK457","e":"La","v":35},{"s":"MK457","e":"Ce","v":34},{"s":"MK457","e":"Pr","v":32},{"s":"MK457","e":"Nd","v":30},{"s":"MK457","e":"Sm","v":28},{"s":"MK457","e":"Eu","v":24},{"s":"MK457","e":"Gd","v":26},{"s":"MK457","e":"Tb","v":25},{"s":"MK457","e":"Dy","v":23},{"s":"MK457","e":"Ho","v":22},{"s":"MK457","e":"Er","v":21},{"s":"MK457","e":"Tm","v":20},{"s":"MK457","e":"Yb","v":19},{"s":"MK457","e":"Lu","v":18},
{"s":"MK453","e":"La","v":32},{"s":"MK453","e":"Ce","v":31},{"s":"MK453","e":"Pr","v":29},{"s":"MK453","e":"Nd","v":27},{"s":"MK453","e":"Sm","v":25},{"s":"MK453","e":"Eu","v":21},{"s":"MK453","e":"Gd","v":23},{"s":"MK453","e":"Tb","v":22},{"s":"MK453","e":"Dy","v":21},{"s":"MK453","e":"Ho","v":20},{"s":"MK453","e":"Er","v":19},{"s":"MK453","e":"Tm","v":18},{"s":"MK453","e":"Yb","v":17},{"s":"MK453","e":"Lu","v":16},
{"s":"MK715","e":"La","v":30},{"s":"MK715","e":"Ce","v":29},{"s":"MK715","e":"Pr","v":27},{"s":"MK715","e":"Nd","v":26},{"s":"MK715","e":"Sm","v":24},{"s":"MK715","e":"Eu","v":20},{"s":"MK715","e":"Gd","v":22},{"s":"MK715","e":"Tb","v":21},{"s":"MK715","e":"Dy","v":20},{"s":"MK715","e":"Ho","v":19},{"s":"MK715","e":"Er","v":18},{"s":"MK715","e":"Tm","v":17},{"s":"MK715","e":"Yb","v":16.5},{"s":"MK715","e":"Lu","v":16},
{"s":"MK402","e":"La","v":27},{"s":"MK402","e":"Ce","v":26},{"s":"MK402","e":"Pr","v":25},{"s":"MK402","e":"Nd","v":23},{"s":"MK402","e":"Sm","v":22},{"s":"MK402","e":"Eu","v":19},{"s":"MK402","e":"Gd","v":20},{"s":"MK402","e":"Tb","v":19},{"s":"MK402","e":"Dy","v":18},{"s":"MK402","e":"Ho","v":17},{"s":"MK402","e":"Er","v":16},{"s":"MK402","e":"Tm","v":15.5},{"s":"MK402","e":"Yb","v":15},{"s":"MK402","e":"Lu","v":14.5},
{"s":"MK783","e":"La","v":25},{"s":"MK783","e":"Ce","v":24},{"s":"MK783","e":"Pr","v":23},{"s":"MK783","e":"Nd","v":21},{"s":"MK783","e":"Sm","v":20},{"s":"MK783","e":"Eu","v":17},{"s":"MK783","e":"Gd","v":18},{"s":"MK783","e":"Tb","v":17},{"s":"MK783","e":"Dy","v":16},{"s":"MK783","e":"Ho","v":15.5},{"s":"MK783","e":"Er","v":15},{"s":"MK783","e":"Tm","v":14.5},{"s":"MK783","e":"Yb","v":14},{"s":"MK783","e":"Lu","v":13.5},
{"s":"MK28","e":"La","v":30},{"s":"MK28","e":"Ce","v":29},{"s":"MK28","e":"Pr","v":28},{"s":"MK28","e":"Nd","v":26},{"s":"MK28","e":"Sm","v":22},{"s":"MK28","e":"Eu","v":9},{"s":"MK28","e":"Gd","v":20},{"s":"MK28","e":"Tb","v":19},{"s":"MK28","e":"Dy","v":18},{"s":"MK28","e":"Ho","v":17},{"s":"MK28","e":"Er","v":16},{"s":"MK28","e":"Tm","v":15},{"s":"MK28","e":"Yb","v":14.5},{"s":"MK28","e":"Lu","v":14},
{"s":"MK30","e":"La","v":18},{"s":"MK30","e":"Ce","v":18},{"s":"MK30","e":"Pr","v":17},{"s":"MK30","e":"Nd","v":16.5},{"s":"MK30","e":"Sm","v":16},{"s":"MK30","e":"Eu","v":14},{"s":"MK30","e":"Gd","v":15},{"s":"MK30","e":"Tb","v":14.5},{"s":"MK30","e":"Dy","v":14},{"s":"MK30","e":"Ho","v":13.5},{"s":"MK30","e":"Er","v":13},{"s":"MK30","e":"Tm","v":12.5},{"s":"MK30","e":"Yb","v":12},{"s":"MK30","e":"Lu","v":12}],
"h":[
{"s":"MK6","e":"La","v":35},{"s":"MK6","e":"Ce","v":33},{"s":"MK6","e":"Pr","v":31},{"s":"MK6","e":"Nd","v":29},{"s":"MK6","e":"Sm","v":27},{"s":"MK6","e":"Eu","v":22},{"s":"MK6","e":"Gd","v":24},{"s":"MK6","e":"Tb","v":23},{"s":"MK6","e":"Dy","v":21},{"s":"MK6","e":"Ho","v":20},{"s":"MK6","e":"Er","v":18},{"s":"MK6","e":"Tm","v":17},{"s":"MK6","e":"Yb","v":16},{"s":"MK6","e":"Lu","v":15.5},
{"s":"MK10","e":"La","v":34},{"s":"MK10","e":"Ce","v":32},{"s":"MK10","e":"Pr","v":30},{"s":"MK10","e":"Nd","v":28.5},{"s":"MK10","e":"Sm","v":26.5},{"s":"MK10","e":"Eu","v":22},{"s":"MK10","e":"Gd","v":24},{"s":"MK10","e":"Tb","v":22.5},{"s":"MK10","e":"Dy","v":20.5},{"s":"MK10","e":"Ho","v":19},{"s":"MK10","e":"Er","v":17},{"s":"MK10","e":"Tm","v":16},{"s":"MK10","e":"Yb","v":15},{"s":"MK10","e":"Lu","v":14.5},
{"s":"MK8","e":"La","v":66},{"s":"MK8","e":"Ce","v":63},{"s":"MK8","e":"Pr","v":60},{"s":"MK8","e":"Nd","v":57},{"s":"MK8","e":"Sm","v":52},{"s":"MK8","e":"Eu","v":38},{"s":"MK8","e":"Gd","v":47},{"s":"MK8","e":"Tb","v":44},{"s":"MK8","e":"Dy","v":40},{"s":"MK8","e":"Ho","v":37},{"s":"MK8","e":"Er","v":33},{"s":"MK8","e":"Tm","v":30},{"s":"MK8","e":"Yb","v":28},{"s":"MK8","e":"Lu","v":25},
{"s":"MK11","e":"La","v":88},{"s":"MK11","e":"Ce","v":85},{"s":"MK11","e":"Pr","v":78},{"s":"MK11","e":"Nd","v":72},{"s":"MK11","e":"Sm","v":63},{"s":"MK11","e":"Eu","v":43},{"s":"MK11","e":"Gd","v":57},{"s":"MK11","e":"Tb","v":54},{"s":"MK11","e":"Dy","v":50},{"s":"MK11","e":"Ho","v":46},{"s":"MK11","e":"Er","v":42},{"s":"MK11","e":"Tm","v":38},{"s":"MK11","e":"Yb","v":36},{"s":"MK11","e":"Lu","v":32},
{"s":"MK9","e":"La","v":33},{"s":"MK9","e":"Ce","v":32},{"s":"MK9","e":"Pr","v":30},{"s":"MK9","e":"Nd","v":28},{"s":"MK9","e":"Sm","v":26},{"s":"MK9","e":"Eu","v":21},{"s":"MK9","e":"Gd","v":23},{"s":"MK9","e":"Tb","v":22},{"s":"MK9","e":"Dy","v":20},{"s":"MK9","e":"Ho","v":19},{"s":"MK9","e":"Er","v":17.5},{"s":"MK9","e":"Tm","v":16.5},{"s":"MK9","e":"Yb","v":15.5},{"s":"MK9","e":"Lu","v":15},
{"s":"MK110","e":"La","v":32},{"s":"MK110","e":"Ce","v":31},{"s":"MK110","e":"Pr","v":29.5},{"s":"MK110","e":"Nd","v":28},{"s":"MK110","e":"Sm","v":26},{"s":"MK110","e":"Eu","v":21.5},{"s":"MK110","e":"Gd","v":23},{"s":"MK110","e":"Tb","v":21.5},{"s":"MK110","e":"Dy","v":20},{"s":"MK110","e":"Ho","v":18.5},{"s":"MK110","e":"Er","v":17},{"s":"MK110","e":"Tm","v":16},{"s":"MK110","e":"Yb","v":15},{"s":"MK110","e":"Lu","v":14.5},
{"s":"MK93","e":"La","v":31},{"s":"MK93","e":"Ce","v":30},{"s":"MK93","e":"Pr","v":29},{"s":"MK93","e":"Nd","v":27},{"s":"MK93","e":"Sm","v":25},{"s":"MK93","e":"Eu","v":20.5},{"s":"MK93","e":"Gd","v":22},{"s":"MK93","e":"Tb","v":21},{"s":"MK93","e":"Dy","v":19},{"s":"MK93","e":"Ho","v":18},{"s":"MK93","e":"Er","v":16},{"s":"MK93","e":"Tm","v":15},{"s":"MK93","e":"Yb","v":14},{"s":"MK93","e":"Lu","v":13},
{"s":"MK96","e":"La","v":30},{"s":"MK96","e":"Ce","v":29},{"s":"MK96","e":"Pr","v":28},{"s":"MK96","e":"Nd","v":26.5},{"s":"MK96","e":"Sm","v":25},{"s":"MK96","e":"Eu","v":21},{"s":"MK96","e":"Gd","v":22.5},{"s":"MK96","e":"Tb","v":21},{"s":"MK96","e":"Dy","v":19},{"s":"MK96","e":"Ho","v":17.5},{"s":"MK96","e":"Er","v":16},{"s":"MK96","e":"Tm","v":15},{"s":"MK96","e":"Yb","v":14.5},{"s":"MK96","e":"Lu","v":14}],
"i":[
{"s":"MK86","e":"La","v":17},{"s":"MK86","e":"Ce","v":17},{"s":"MK86","e":"Pr","v":16.5},{"s":"MK86","e":"Nd","v":16.5},{"s":"MK86","e":"Sm","v":16},{"s":"MK86","e":"Eu","v":15.5},{"s":"MK86","e":"Gd","v":13.5},{"s":"MK86","e":"Tb","v":13},{"s":"MK86","e":"Dy","v":12.5},{"s":"MK86","e":"Ho","v":11.5},{"s":"MK86","e":"Er","v":10.5},{"s":"MK86","e":"Tm","v":10},{"s":"MK86","e":"Yb","v":9.5},{"s":"MK86","e":"Lu","v":9},
{"s":"MK104","e":"La","v":28},{"s":"MK104","e":"Ce","v":29},{"s":"MK104","e":"Pr","v":28},{"s":"MK104","e":"Nd","v":28},{"s":"MK104","e":"Sm","v":26},{"s":"MK104","e":"Eu","v":22},{"s":"MK104","e":"Gd","v":24},{"s":"MK104","e":"Tb","v":22},{"s":"MK104","e":"Dy","v":20},{"s":"MK104","e":"Ho","v":19},{"s":"MK104","e":"Er","v":18},{"s":"MK104","e":"Tm","v":17},{"s":"MK104","e":"Yb","v":16.5},{"s":"MK104","e":"Lu","v":16},
{"s":"MK105","e":"La","v":26},{"s":"MK105","e":"Ce","v":27},{"s":"MK105","e":"Pr","v":27},{"s":"MK105","e":"Nd","v":27},{"s":"MK105","e":"Sm","v":25},{"s":"MK105","e":"Eu","v":22},{"s":"MK105","e":"Gd","v":23},{"s":"MK105","e":"Tb","v":21},{"s":"MK105","e":"Dy","v":19.5},{"s":"MK105","e":"Ho","v":19},{"s":"MK105","e":"Er","v":17.5},{"s":"MK105","e":"Tm","v":17},{"s":"MK105","e":"Yb","v":16},{"s":"MK105","e":"Lu","v":15.5},
{"s":"MK109","e":"La","v":15.5},{"s":"MK109","e":"Ce","v":16.5},{"s":"MK109","e":"Pr","v":16.5},{"s":"MK109","e":"Nd","v":16},{"s":"MK109","e":"Sm","v":15.5},{"s":"MK109","e":"Eu","v":14.5},{"s":"MK109","e":"Gd","v":14},{"s":"MK109","e":"Tb","v":13},{"s":"MK109","e":"Dy","v":12.5},{"s":"MK109","e":"Ho","v":11.5},{"s":"MK109","e":"Er","v":10.5},{"s":"MK109","e":"Tm","v":10},{"s":"MK109","e":"Yb","v":9.3},{"s":"MK109","e":"Lu","v":8.8},
{"s":"MK112","e":"La","v":24},{"s":"MK112","e":"Ce","v":25},{"s":"MK112","e":"Pr","v":24},{"s":"MK112","e":"Nd","v":24},{"s":"MK112","e":"Sm","v":23},{"s":"MK112","e":"Eu","v":21},{"s":"MK112","e":"Gd","v":21},{"s":"MK112","e":"Tb","v":20},{"s":"MK112","e":"Dy","v":18},{"s":"MK112","e":"Ho","v":17},{"s":"MK112","e":"Er","v":16},{"s":"MK112","e":"Tm","v":16},{"s":"MK112","e":"Yb","v":15},{"s":"MK112","e":"Lu","v":14}],
"j":[
{"s":"MK12","e":"La","v":55},{"s":"MK12","e":"Ce","v":48},{"s":"MK12","e":"Pr","v":43},{"s":"MK12","e":"Nd","v":37},{"s":"MK12","e":"Sm","v":32},{"s":"MK12","e":"Eu","v":25},{"s":"MK12","e":"Gd","v":27},{"s":"MK12","e":"Tb","v":25},{"s":"MK12","e":"Dy","v":23},{"s":"MK12","e":"Ho","v":22},{"s":"MK12","e":"Er","v":20},{"s":"MK12","e":"Tm","v":19},{"s":"MK12","e":"Yb","v":18},{"s":"MK12","e":"Lu","v":18},
{"s":"MK87","e":"La","v":29},{"s":"MK87","e":"Ce","v":26},{"s":"MK87","e":"Pr","v":23},{"s":"MK87","e":"Nd","v":21},{"s":"MK87","e":"Sm","v":18},{"s":"MK87","e":"Eu","v":14},{"s":"MK87","e":"Gd","v":14},{"s":"MK87","e":"Tb","v":13},{"s":"MK87","e":"Dy","v":12},{"s":"MK87","e":"Ho","v":11},{"s":"MK87","e":"Er","v":10},{"s":"MK87","e":"Tm","v":9.5},{"s":"MK87","e":"Yb","v":9},{"s":"MK87","e":"Lu","v":9},
{"s":"MK24","e":"La","v":36},{"s":"MK24","e":"Ce","v":33},{"s":"MK24","e":"Pr","v":30},{"s":"MK24","e":"Nd","v":27},{"s":"MK24","e":"Sm","v":24},{"s":"MK24","e":"Eu","v":18},{"s":"MK24","e":"Gd","v":19},{"s":"MK24","e":"Tb","v":17},{"s":"MK24","e":"Dy","v":16},{"s":"MK24","e":"Ho","v":15},{"s":"MK24","e":"Er","v":14.5},{"s":"MK24","e":"Tm","v":14},{"s":"MK24","e":"Yb","v":13.5},{"s":"MK24","e":"Lu","v":13},
{"s":"MK26","e":"La","v":33},{"s":"MK26","e":"Ce","v":31},{"s":"MK26","e":"Pr","v":28},{"s":"MK26","e":"Nd","v":25},{"s":"MK26","e":"Sm","v":22},{"s":"MK26","e":"Eu","v":17},{"s":"MK26","e":"Gd","v":18},{"s":"MK26","e":"Tb","v":17},{"s":"MK26","e":"Dy","v":15.5},{"s":"MK26","e":"Ho","v":15},{"s":"MK26","e":"Er","v":14},{"s":"MK26","e":"Tm","v":13.5},{"s":"MK26","e":"Yb","v":13},{"s":"MK26","e":"Lu","v":12.5},
{"s":"MK37a","e":"La","v":28},{"s":"MK37a","e":"Ce","v":26},{"s":"MK37a","e":"Pr","v":24},{"s":"MK37a","e":"Nd","v":21},{"s":"MK37a","e":"Sm","v":19},{"s":"MK37a","e":"Eu","v":16},{"s":"MK37a","e":"Gd","v":16},{"s":"MK37a","e":"Tb","v":15},{"s":"MK37a","e":"Dy","v":14},{"s":"MK37a","e":"Ho","v":13},{"s":"MK37a","e":"Er","v":12.5},{"s":"MK37a","e":"Tm","v":12},{"s":"MK37a","e":"Yb","v":11.5},{"s":"MK37a","e":"Lu","v":11},
{"s":"MK37b","e":"La","v":30},{"s":"MK37b","e":"Ce","v":28},{"s":"MK37b","e":"Pr","v":25},{"s":"MK37b","e":"Nd","v":22},{"s":"MK37b","e":"Sm","v":20},{"s":"MK37b","e":"Eu","v":15},{"s":"MK37b","e":"Gd","v":15.5},{"s":"MK37b","e":"Tb","v":14.5},{"s":"MK37b","e":"Dy","v":13},{"s":"MK37b","e":"Ho","v":12},{"s":"MK37b","e":"Er","v":11},{"s":"MK37b","e":"Tm","v":10.5},{"s":"MK37b","e":"Yb","v":10},{"s":"MK37b","e":"Lu","v":10}]
},
"columns":2,
"align":"each",
"spacing":{"row":6,"column":0},
"concat":[
{"width":154,"height":88,"data":{"name":"a"},"layer":[
 {"transform":[{"filter":{"field":"s","oneOf":["MK89","MK92","MK29"]}}],"mark":{"type":"line","strokeWidth":0.6,"opacity":0.6},"encoding":{"x":{"field":"e","type":"ordinal","scale":{"type":"point","padding":0.8,"domain":["Rb","Ba","Th","U","Ta","K","Nb","La","Ce","Sr","P","Nd","Hf","Zr","Sm","Ti","Tb","Y","Yb"]},"axis":{"title":null}},"y":{"field":"v","type":"quantitative","scale":{"type":"log","domain":[0.1,100]},"axis":{"title":"Rock/N-MORB","values":[0.1,1,10,100],"format":"~g"}},"stroke":{"field":"s","type":"nominal","scale":{"domain":["MK89","MK92","MK29"],"range":["#a0a0a0","#8c8c8c","#555555"]},"legend":null},"order":{"value":null}}},
 {"transform":[{"filter":{"field":"s","oneOf":["MK89","MK92","MK29"]}}],"mark":{"type":"point","filled":true,"size":10,"opacity":1},"encoding":{"x":{"field":"e","type":"ordinal"},"y":{"field":"v","type":"quantitative"},"color":{"field":"s","type":"nominal","scale":{"domain":["MK89","MK92","MK29"],"range":["#a0a0a0","#8c8c8c","#555555"]},"legend":{"title":["Sheeted dyke","complex"],"orient":"none","legendX":58,"legendY":72,"columns":3,"columnPadding":12}},"shape":{"field":"s","type":"nominal","scale":{"domain":["MK89","MK92","MK29"],"range":["M-1,-1H1V1H-1Z M-0.5,-0.5V0.5H0.5V-0.5Z","circle","triangle-up"]}}}},
 {"transform":[{"filter":{"field":"s","oneOf":["MK97","MK101","MK100","MK713","MK770"]}}],"mark":{"type":"line","strokeWidth":0.6,"opacity":0.55},"encoding":{"x":{"field":"e","type":"ordinal"},"y":{"field":"v","type":"quantitative"},"stroke":{"field":"s","type":"nominal","scale":{"domain":["MK97","MK101","MK100","MK713","MK770"],"range":["#c640b6","#58b047","#e3262b","#2c48a8","#5cb6d6"]},"legend":null},"order":{"value":null}}},
 {"transform":[{"filter":{"field":"s","oneOf":["MK97","MK101","MK100","MK713","MK770"]}}],"mark":{"type":"point","filled":true,"size":10,"opacity":1},"encoding":{"x":{"field":"e","type":"ordinal"},"y":{"field":"v","type":"quantitative"},"color":{"field":"s","type":"nominal","scale":{"domain":["MK97","MK101","MK100","MK713","MK770"],"range":["#c640b6","#58b047","#e3262b","#2c48a8","#5cb6d6"]},"legend":{"title":"Volcanic sequence","orient":"none","legendX":91,"legendY":12,"columns":2,"rowPadding":2,"columnPadding":10}},"shape":{"field":"s","type":"nominal","scale":{"domain":["MK97","MK101","MK100","MK713","MK770"],"range":["square","square","square","square","square"]}}}},
 {"data":{"values":[{}]},"mark":{"type":"text","fontSize":6,"dx":4},"encoding":{"x":{"datum":"La","type":"ordinal"},"y":{"datum":70,"type":"quantitative"},"text":{"value":"Type-I"}}},
 {"data":{"values":[{}]},"mark":{"type":"square","size":85,"color":"#000","opacity":1},"encoding":{"x":{"datum":"Yb","type":"ordinal"},"y":{"datum":67.5,"type":"quantitative"}}},
 {"data":{"values":[{}]},"mark":{"type":"text","fontSize":8,"fontWeight":"bold","color":"#fff","baseline":"middle"},"encoding":{"x":{"datum":"Yb","type":"ordinal"},"y":{"datum":67.5,"type":"quantitative"},"text":{"value":"a"}}}
],"resolve":{"scale":{"color":"independent","shape":"independent","stroke":"independent"}}},
{"width":154,"height":88,"data":{"name":"b"},"layer":[
 {"transform":[{"filter":{"field":"s","oneOf":["MK89","MK92","MK29"]}}],"mark":{"type":"line","strokeWidth":0.6,"opacity":0.6},"encoding":{"x":{"field":"e","type":"ordinal","scale":{"type":"point","padding":0.7,"domain":["La","Ce","Pr","Nd","Pm","Sm","Eu","Gd","Tb","Dy","Ho","Er","Tm","Yb","Lu"]},"axis":{"title":null}},"y":{"field":"v","type":"quantitative","scale":{"type":"log","domain":[1,100]},"axis":{"title":"Rock/Chondrite","values":[1,10,100],"format":"~g"}},"stroke":{"field":"s","type":"nominal","scale":{"domain":["MK89","MK92","MK29"],"range":["#a0a0a0","#8c8c8c","#555555"]},"legend":null},"order":{"value":null}}},
 {"transform":[{"filter":{"field":"s","oneOf":["MK89","MK92","MK29"]}}],"mark":{"type":"point","filled":true,"size":10,"opacity":1},"encoding":{"x":{"field":"e","type":"ordinal"},"y":{"field":"v","type":"quantitative"},"color":{"field":"s","type":"nominal","scale":{"domain":["MK89","MK92","MK29"],"range":["#a0a0a0","#8c8c8c","#555555"]},"legend":{"title":["Sheeted dyke","complex"],"orient":"none","legendX":112,"legendY":58.5,"columns":1,"rowPadding":1}},"shape":{"field":"s","type":"nominal","scale":{"domain":["MK89","MK92","MK29"],"range":["M-1,-1H1V1H-1Z M-0.5,-0.5V0.5H0.5V-0.5Z","circle","triangle-up"]}}}},
 {"transform":[{"filter":{"field":"s","oneOf":["MK97","MK101","MK100","MK713","MK770"]}}],"mark":{"type":"line","strokeWidth":0.6,"opacity":0.55},"encoding":{"x":{"field":"e","type":"ordinal"},"y":{"field":"v","type":"quantitative"},"stroke":{"field":"s","type":"nominal","scale":{"domain":["MK97","MK101","MK100","MK713","MK770"],"range":["#c640b6","#58b047","#e3262b","#2c48a8","#5cb6d6"]},"legend":null},"order":{"value":null}}},
 {"transform":[{"filter":{"field":"s","oneOf":["MK97","MK101","MK100","MK713","MK770"]}}],"mark":{"type":"point","filled":true,"size":10,"opacity":1},"encoding":{"x":{"field":"e","type":"ordinal"},"y":{"field":"v","type":"quantitative"},"color":{"field":"s","type":"nominal","scale":{"domain":["MK97","MK101","MK100","MK713","MK770"],"range":["#c640b6","#58b047","#e3262b","#2c48a8","#5cb6d6"]},"legend":{"title":"Volcanic sequence","orient":"none","legendX":50,"legendY":64,"columns":2,"rowPadding":1,"columnPadding":10}},"shape":{"field":"s","type":"nominal","scale":{"domain":["MK97","MK101","MK100","MK713","MK770"],"range":["square","square","square","square","square"]}}}},
 {"data":{"name":"nmc"},"mark":{"type":"line","strokeWidth":1.8},"encoding":{"x":{"field":"e","type":"ordinal"},"y":{"field":"v","type":"quantitative"},"order":{"value":null},"color":{"datum":"N-MORB","type":"nominal","scale":{"range":["#111111"]},"legend":{"title":null,"orient":"none","legendX":2,"legendY":77,"symbolSize":200,"symbolStrokeWidth":2,"labelFontSize":6,"labelOffset":3}}}},
 {"data":{"values":[{}]},"mark":{"type":"text","fontSize":6,"dx":4},"encoding":{"x":{"datum":"Eu","type":"ordinal"},"y":{"datum":70,"type":"quantitative"},"text":{"value":"Type-I"}}},
 {"data":{"values":[{}]},"mark":{"type":"square","size":85,"color":"#000","opacity":1},"encoding":{"x":{"datum":"Lu","type":"ordinal"},"y":{"datum":78,"type":"quantitative"}}},
 {"data":{"values":[{}]},"mark":{"type":"text","fontSize":8,"fontWeight":"bold","color":"#fff","baseline":"middle"},"encoding":{"x":{"datum":"Lu","type":"ordinal"},"y":{"datum":78,"type":"quantitative"},"text":{"value":"b"}}}
],"resolve":{"scale":{"color":"independent","shape":"independent","stroke":"independent"}}},
{"width":154,"height":88,"data":{"name":"c"},"layer":[
 {"transform":[{"filter":{"field":"s","oneOf":["MK43","MK31","MK783","MK453","MK30","MK457","MK28","MK95"]}}],"mark":{"type":"line","strokeWidth":0.6,"opacity":0.6},"encoding":{"x":{"field":"e","type":"ordinal","scale":{"type":"point","padding":0.8,"domain":["Rb","Ba","Th","U","Ta","K","Nb","La","Ce","Sr","P","Nd","Hf","Zr","Sm","Ti","Tb","Y","Yb"]},"axis":{"title":null}},"y":{"field":"v","type":"quantitative","scale":{"type":"log","domain":[0.1,100]},"axis":{"title":"Rock/N-MORB","values":[0.1,1,10,100],"format":"~g"}},"stroke":{"field":"s","type":"nominal","scale":{"domain":["MK43","MK31","MK783","MK453","MK30","MK457","MK28","MK95"],"range":["#111111","#222222","#999999","#777777","#888888","#666666","#999999","#bbbbbb"]},"legend":null},"order":{"value":null}}},
 {"transform":[{"filter":{"field":"s","oneOf":["MK43","MK31","MK783","MK453","MK30","MK457","MK28","MK95"]}}],"mark":{"type":"point","filled":true,"size":10,"opacity":1},"encoding":{"x":{"field":"e","type":"ordinal"},"y":{"field":"v","type":"quantitative"},"color":{"field":"s","type":"nominal","scale":{"domain":["MK43","MK31","MK783","MK453","MK30","MK457","MK28","MK95"],"range":["#111111","#222222","#999999","#777777","#888888","#666666","#999999","#bbbbbb"]},"legend":{"title":["Sheeted dyke","complex"],"orient":"none","legendX":90,"legendY":11.5,"columns":2,"rowPadding":0,"columnPadding":10}},"shape":{"field":"s","type":"nominal","scale":{"domain":["MK43","MK31","MK783","MK453","MK30","MK457","MK28","MK95"],"range":["square","cross","square","diamond","triangle-up","circle","M-1,0A1,1 0 1,0 1,0A1,1 0 1,0 -1,0Z M-0.5,0A0.5,0.5 0 1,1 0.5,0A0.5,0.5 0 1,1 -0.5,0Z","circle"]}}}},
 {"transform":[{"filter":{"field":"s","oneOf":["MK4","MK402","MK400","MK715"]}}],"mark":{"type":"line","strokeWidth":0.6,"opacity":0.55},"encoding":{"x":{"field":"e","type":"ordinal"},"y":{"field":"v","type":"quantitative"},"stroke":{"field":"s","type":"nominal","scale":{"domain":["MK4","MK402","MK400","MK715"],"range":["#e3262b","#2c48a8","#58b047","#5cb6d6"]},"legend":null},"order":{"value":null}}},
 {"transform":[{"filter":{"field":"s","oneOf":["MK4","MK402","MK400","MK715"]}}],"mark":{"type":"point","filled":true,"size":10,"opacity":1},"encoding":{"x":{"field":"e","type":"ordinal"},"y":{"field":"v","type":"quantitative"},"color":{"field":"s","type":"nominal","scale":{"domain":["MK4","MK402","MK400","MK715"],"range":["#e3262b","#2c48a8","#58b047","#5cb6d6"]},"legend":{"title":"Volcanic sequence","orient":"none","legendX":63,"legendY":66,"columns":2,"rowPadding":1,"columnPadding":8}},"shape":{"field":"s","type":"nominal","scale":{"domain":["MK4","MK402","MK400","MK715"],"range":["square","triangle-up","square","diamond"]}}}},
 {"data":{"name":"emn"},"mark":{"type":"line","strokeWidth":1.8},"encoding":{"x":{"field":"e","type":"ordinal"},"y":{"field":"v","type":"quantitative"},"order":{"value":null},"color":{"datum":"E-MORB","type":"nominal","scale":{"range":["#111111"]},"legend":{"title":null,"orient":"none","legendX":4,"legendY":77,"symbolSize":200,"symbolStrokeWidth":2,"labelFontSize":6,"labelOffset":3}}}},
 {"data":{"values":[{}]},"mark":{"type":"text","fontSize":6},"encoding":{"x":{"datum":"Ce","type":"ordinal"},"y":{"datum":70,"type":"quantitative"},"text":{"value":"Subtype-IIa"}}},
 {"data":{"values":[{}]},"mark":{"type":"square","size":85,"color":"#000","opacity":1},"encoding":{"x":{"datum":"Yb","type":"ordinal"},"y":{"datum":67.5,"type":"quantitative"}}},
 {"data":{"values":[{}]},"mark":{"type":"text","fontSize":8,"fontWeight":"bold","color":"#fff","baseline":"middle"},"encoding":{"x":{"datum":"Yb","type":"ordinal"},"y":{"datum":67.5,"type":"quantitative"},"text":{"value":"c"}}}
],"resolve":{"scale":{"color":"independent","shape":"independent","stroke":"independent"}}},
{"width":154,"height":88,"data":{"name":"d"},"layer":[
 {"transform":[{"filter":{"field":"s","oneOf":["MK93","MK96"]}}],"mark":{"type":"line","strokeWidth":0.6,"opacity":0.6},"encoding":{"x":{"field":"e","type":"ordinal","scale":{"type":"point","padding":0.8,"domain":["Rb","Ba","Th","U","Ta","K","Nb","La","Ce","Sr","P","Nd","Hf","Zr","Sm","Ti","Tb","Y","Yb"]},"axis":{"title":null}},"y":{"field":"v","type":"quantitative","scale":{"type":"log","domain":[0.1,100]},"axis":{"title":"Rock/N-MORB","values":[0.1,1,10,100],"format":"~g"}},"stroke":{"field":"s","type":"nominal","scale":{"domain":["MK93","MK96"],"range":["#111111","#888888"]},"legend":null},"order":{"value":null}}},
 {"transform":[{"filter":{"field":"s","oneOf":["MK93","MK96"]}}],"mark":{"type":"point","filled":true,"size":10,"opacity":1},"encoding":{"x":{"field":"e","type":"ordinal"},"y":{"field":"v","type":"quantitative"},"color":{"field":"s","type":"nominal","scale":{"domain":["MK93","MK96"],"range":["#111111","#888888"]},"legend":{"title":["Sheeted dyke","complex"],"orient":"none","legendX":7,"legendY":65.5,"columns":1,"rowPadding":0}},"shape":{"field":"s","type":"nominal","scale":{"domain":["MK93","MK96"],"range":["square","triangle-up"]}}}},
 {"transform":[{"filter":{"field":"s","oneOf":["MK6","MK10","MK8","MK11","MK9","MK110"]}}],"mark":{"type":"line","strokeWidth":0.6,"opacity":0.55},"encoding":{"x":{"field":"e","type":"ordinal"},"y":{"field":"v","type":"quantitative"},"stroke":{"field":"s","type":"nominal","scale":{"domain":["MK6","MK10","MK8","MK11","MK9","MK110"],"range":["#e3262b","#5cb6d6","#58b047","#f08a2a","#2c48a8","#c640b6"]},"legend":null},"order":{"value":null}}},
 {"transform":[{"filter":{"field":"s","oneOf":["MK6","MK10","MK8","MK11","MK9","MK110"]}}],"mark":{"type":"point","filled":true,"size":10,"opacity":1},"encoding":{"x":{"field":"e","type":"ordinal"},"y":{"field":"v","type":"quantitative"},"color":{"field":"s","type":"nominal","scale":{"domain":["MK6","MK10","MK8","MK11","MK9","MK110"],"range":["#e3262b","#5cb6d6","#58b047","#f08a2a","#2c48a8","#c640b6"]},"legend":{"title":["Volcanic","sequence"],"orient":"none","legendX":93,"legendY":6.5,"columns":2,"rowPadding":0,"columnPadding":10}},"shape":{"field":"s","type":"nominal","scale":{"domain":["MK6","MK10","MK8","MK11","MK9","MK110"],"range":["square","circle","square","square","triangle-up","square"]}}}},
 {"data":{"name":"emn"},"mark":{"type":"line","strokeWidth":1.8},"encoding":{"x":{"field":"e","type":"ordinal"},"y":{"field":"v","type":"quantitative"},"order":{"value":null},"color":{"datum":"E-MORB","type":"nominal","scale":{"range":["#111111"]},"legend":{"title":null,"orient":"none","legendX":104,"legendY":77,"symbolSize":200,"symbolStrokeWidth":2,"labelFontSize":6,"labelOffset":3}}}},
 {"data":{"values":[{}]},"mark":{"type":"text","fontSize":6,"dx":3},"encoding":{"x":{"datum":"Ce","type":"ordinal"},"y":{"datum":70,"type":"quantitative"},"text":{"value":"Subtype-IIb"}}},
 {"data":{"values":[{}]},"mark":{"type":"square","size":85,"color":"#000","opacity":1},"encoding":{"x":{"datum":"Yb","type":"ordinal"},"y":{"datum":67.5,"type":"quantitative"}}},
 {"data":{"values":[{}]},"mark":{"type":"text","fontSize":8,"fontWeight":"bold","color":"#fff","baseline":"middle"},"encoding":{"x":{"datum":"Yb","type":"ordinal"},"y":{"datum":67.5,"type":"quantitative"},"text":{"value":"d"}}}
],"resolve":{"scale":{"color":"independent","shape":"independent","stroke":"independent"}}},
{"width":154,"height":88,"data":{"name":"e"},"layer":[
 {"transform":[{"filter":{"field":"s","oneOf":["MK86","MK104","MK105","MK109","MK112"]}}],"mark":{"type":"line","strokeWidth":0.6,"opacity":0.55},"encoding":{"x":{"field":"e","type":"ordinal","scale":{"type":"point","padding":0.8,"domain":["Rb","Ba","Th","U","Ta","K","Nb","La","Ce","Sr","P","Nd","Hf","Zr","Sm","Ti","Tb","Y","Yb"]},"axis":{"title":null}},"y":{"field":"v","type":"quantitative","scale":{"type":"log","domain":[0.1,100]},"axis":{"title":"Rock/N-MORB","values":[0.1,1,10,100],"format":"~g"}},"stroke":{"field":"s","type":"nominal","scale":{"domain":["MK86","MK104","MK105","MK109","MK112"],"range":["#e3262b","#58b047","#2c48a8","#5cb6d6","#9c4f90"]},"legend":null},"order":{"value":null}}},
 {"transform":[{"filter":{"field":"s","oneOf":["MK86","MK104","MK105","MK109","MK112"]}}],"mark":{"type":"point","filled":true,"size":10,"opacity":1},"encoding":{"x":{"field":"e","type":"ordinal"},"y":{"field":"v","type":"quantitative"},"color":{"field":"s","type":"nominal","scale":{"domain":["MK86","MK104","MK105","MK109","MK112"],"range":["#e3262b","#58b047","#2c48a8","#5cb6d6","#9c4f90"]},"legend":{"title":["Volcanic","sequence"],"orient":"none","legendX":102,"legendY":0.5,"columns":1,"rowPadding":1.5}},"shape":{"field":"s","type":"nominal","scale":{"domain":["MK86","MK104","MK105","MK109","MK112"],"range":["square","square","triangle-up","square","cross"]}}}},
 {"data":{"name":"emn"},"mark":{"type":"line","strokeWidth":1.8},"encoding":{"x":{"field":"e","type":"ordinal"},"y":{"field":"v","type":"quantitative"},"order":{"value":null},"color":{"datum":"E-MORB","type":"nominal","scale":{"range":["#111111"]},"legend":{"title":null,"orient":"none","legendX":106,"legendY":77,"symbolSize":200,"symbolStrokeWidth":2,"labelFontSize":6,"labelOffset":3}}}},
 {"data":{"values":[{}]},"mark":{"type":"text","fontSize":6,"dx":3},"encoding":{"x":{"datum":"Ce","type":"ordinal"},"y":{"datum":70,"type":"quantitative"},"text":{"value":"Subtype-IIc"}}},
 {"data":{"values":[{}]},"mark":{"type":"square","size":85,"color":"#000","opacity":1},"encoding":{"x":{"datum":"Yb","type":"ordinal"},"y":{"datum":67.5,"type":"quantitative"}}},
 {"data":{"values":[{}]},"mark":{"type":"text","fontSize":8,"fontWeight":"bold","color":"#fff","baseline":"middle"},"encoding":{"x":{"datum":"Yb","type":"ordinal"},"y":{"datum":67.5,"type":"quantitative"},"text":{"value":"e"}}}
],"resolve":{"scale":{"color":"independent","shape":"independent","stroke":"independent"}}},
{"width":154,"height":88,"data":{"name":"f"},"layer":[
 {"transform":[{"filter":{"field":"s","oneOf":["MK87","MK26","MK24","MK37a","MK37b"]}}],"mark":{"type":"line","strokeWidth":0.6,"opacity":0.6},"encoding":{"x":{"field":"e","type":"ordinal","scale":{"type":"point","padding":0.8,"domain":["Rb","Ba","Th","U","Ta","K","Nb","La","Ce","Sr","P","Nd","Hf","Zr","Sm","Ti","Tb","Y","Yb"]},"axis":{"title":null}},"y":{"field":"v","type":"quantitative","scale":{"type":"log","domain":[0.1,100]},"axis":{"title":"Rock/N-MORB","values":[0.1,1,10,100],"format":"~g"}},"stroke":{"field":"s","type":"nominal","scale":{"domain":["MK87","MK26","MK24","MK37a","MK37b"],"range":["#aaaaaa","#888888","#999999","#111111","#888888"]},"legend":null},"order":{"value":null}}},
 {"transform":[{"filter":{"field":"s","oneOf":["MK87","MK26","MK24","MK37a","MK37b"]}}],"mark":{"type":"point","filled":true,"size":10,"opacity":1},"encoding":{"x":{"field":"e","type":"ordinal"},"y":{"field":"v","type":"quantitative"},"color":{"field":"s","type":"nominal","scale":{"domain":["MK87","MK26","MK24","MK37a","MK37b"],"range":["#aaaaaa","#888888","#999999","#111111","#888888"]},"legend":{"title":["Sheeted dyke","complex"],"orient":"none","legendX":90,"legendY":15.5,"columns":2,"rowPadding":0,"columnPadding":6}},"shape":{"field":"s","type":"nominal","scale":{"domain":["MK87","MK26","MK24","MK37a","MK37b"],"range":["M-1,-1H1V1H-1Z M-0.5,-0.5V0.5H0.5V-0.5Z","triangle-up","circle","circle","square"]}}}},
 {"transform":[{"filter":{"field":"s","oneOf":["MK12"]}}],"mark":{"type":"line","strokeWidth":0.6,"opacity":0.55},"encoding":{"x":{"field":"e","type":"ordinal"},"y":{"field":"v","type":"quantitative"},"stroke":{"field":"s","type":"nominal","scale":{"domain":["MK12"],"range":["#e3262b"]},"legend":null},"order":{"value":null}}},
 {"transform":[{"filter":{"field":"s","oneOf":["MK12"]}}],"mark":{"type":"point","filled":true,"size":10,"opacity":1},"encoding":{"x":{"field":"e","type":"ordinal"},"y":{"field":"v","type":"quantitative"},"color":{"field":"s","type":"nominal","scale":{"domain":["MK12"],"range":["#e3262b"]},"legend":{"title":["Volcanic","sequence"],"orient":"none","legendX":60,"legendY":67.5,"columns":1}},"shape":{"field":"s","type":"nominal","scale":{"domain":["MK12"],"range":["square"]}}}},
 {"data":{"name":"emn"},"mark":{"type":"line","strokeWidth":1.8},"encoding":{"x":{"field":"e","type":"ordinal"},"y":{"field":"v","type":"quantitative"},"order":{"value":null},"color":{"datum":"E-MORB","type":"nominal","scale":{"range":["#111111"]},"legend":{"title":null,"orient":"none","legendX":2,"legendY":77,"symbolSize":200,"symbolStrokeWidth":2,"labelFontSize":6,"labelOffset":3}}}},
 {"data":{"values":[{}]},"mark":{"type":"text","fontSize":6,"dx":5},"encoding":{"x":{"datum":"Ce","type":"ordinal"},"y":{"datum":70,"type":"quantitative"},"text":{"value":"Subtype-IId"}}},
 {"data":{"values":[{}]},"mark":{"type":"square","size":85,"color":"#000","opacity":1},"encoding":{"x":{"datum":"Yb","type":"ordinal"},"y":{"datum":67.5,"type":"quantitative"}}},
 {"data":{"values":[{}]},"mark":{"type":"text","fontSize":8,"fontWeight":"bold","color":"#fff","baseline":"middle"},"encoding":{"x":{"datum":"Yb","type":"ordinal"},"y":{"datum":67.5,"type":"quantitative"},"text":{"value":"f"}}}
],"resolve":{"scale":{"color":"independent","shape":"independent","stroke":"independent"}}},
{"width":154,"height":91,"data":{"name":"g"},"layer":[
 {"transform":[{"filter":{"field":"s","oneOf":["MK43","MK31","MK783","MK453","MK30","MK457","MK28","MK95"]}}],"mark":{"type":"line","strokeWidth":0.6,"opacity":0.6},"encoding":{"x":{"field":"e","type":"ordinal","scale":{"type":"point","padding":0.7,"domain":["La","Ce","Pr","Nd","Pm","Sm","Eu","Gd","Tb","Dy","Ho","Er","Tm","Yb","Lu"]},"axis":{"title":null}},"y":{"field":"v","type":"quantitative","scale":{"type":"log","domain":[1,100]},"axis":{"title":"Rock/Chondrite","values":[1,10,100],"format":"~g"}},"stroke":{"field":"s","type":"nominal","scale":{"domain":["MK43","MK31","MK783","MK453","MK30","MK457","MK28","MK95"],"range":["#111111","#222222","#999999","#777777","#888888","#666666","#999999","#bbbbbb"]},"legend":null},"order":{"value":null}}},
 {"transform":[{"filter":{"field":"s","oneOf":["MK43","MK31","MK783","MK453","MK30","MK457","MK28","MK95"]}}],"mark":{"type":"point","filled":true,"size":10,"opacity":1},"encoding":{"x":{"field":"e","type":"ordinal"},"y":{"field":"v","type":"quantitative"},"color":{"field":"s","type":"nominal","scale":{"domain":["MK43","MK31","MK783","MK453","MK30","MK457","MK28","MK95"],"range":["#111111","#222222","#999999","#777777","#888888","#666666","#999999","#bbbbbb"]},"legend":{"title":["Sheeted dyke","complex"],"orient":"none","legendX":97,"legendY":56.5,"columns":2,"rowPadding":0.3,"columnPadding":10}},"shape":{"field":"s","type":"nominal","scale":{"domain":["MK43","MK31","MK783","MK453","MK30","MK457","MK28","MK95"],"range":["square","cross","square","diamond","triangle-up","circle","M-1,0A1,1 0 1,0 1,0A1,1 0 1,0 -1,0Z M-0.5,0A0.5,0.5 0 1,1 0.5,0A0.5,0.5 0 1,1 -0.5,0Z","circle"]}}}},
 {"transform":[{"filter":{"field":"s","oneOf":["MK4","MK400","MK402","MK715"]}}],"mark":{"type":"line","strokeWidth":0.6,"opacity":0.55},"encoding":{"x":{"field":"e","type":"ordinal"},"y":{"field":"v","type":"quantitative"},"stroke":{"field":"s","type":"nominal","scale":{"domain":["MK4","MK400","MK402","MK715"],"range":["#e3262b","#58b047","#2c48a8","#5cb6d6"]},"legend":null},"order":{"value":null}}},
 {"transform":[{"filter":{"field":"s","oneOf":["MK4","MK400","MK402","MK715"]}}],"mark":{"type":"point","filled":true,"size":10,"opacity":1},"encoding":{"x":{"field":"e","type":"ordinal"},"y":{"field":"v","type":"quantitative"},"color":{"field":"s","type":"nominal","scale":{"domain":["MK4","MK400","MK402","MK715"],"range":["#e3262b","#58b047","#2c48a8","#5cb6d6"]},"legend":{"title":["Volcanic","sequence"],"orient":"none","legendX":52,"legendY":56.5,"columns":1,"rowPadding":0.3}},"shape":{"field":"s","type":"nominal","scale":{"domain":["MK4","MK400","MK402","MK715"],"range":["square","square","triangle-up","diamond"]}}}},
 {"data":{"name":"emc"},"mark":{"type":"line","strokeWidth":1.8},"encoding":{"x":{"field":"e","type":"ordinal"},"y":{"field":"v","type":"quantitative"},"order":{"value":null},"color":{"datum":"E-MORB","type":"nominal","scale":{"range":["#111111"]},"legend":{"title":null,"orient":"none","legendX":4,"legendY":74,"symbolSize":200,"symbolStrokeWidth":2,"labelFontSize":6,"labelOffset":3}}}},
 {"data":{"values":[{}]},"mark":{"type":"text","fontSize":6,"dx":2},"encoding":{"x":{"datum":"Eu","type":"ordinal"},"y":{"datum":81,"type":"quantitative"},"text":{"value":"Subtype-IIa"}}},
 {"data":{"values":[{}]},"mark":{"type":"square","size":85,"color":"#000","opacity":1},"encoding":{"x":{"datum":"Lu","type":"ordinal"},"y":{"datum":77.6,"type":"quantitative"}}},
 {"data":{"values":[{}]},"mark":{"type":"text","fontSize":8,"fontWeight":"bold","color":"#fff","baseline":"middle"},"encoding":{"x":{"datum":"Lu","type":"ordinal"},"y":{"datum":77.6,"type":"quantitative"},"text":{"value":"g"}}}
],"resolve":{"scale":{"color":"independent","shape":"independent","stroke":"independent"}}},
{"width":154,"height":91,"data":{"name":"h"},"layer":[
 {"transform":[{"filter":{"field":"s","oneOf":["MK93","MK96"]}}],"mark":{"type":"line","strokeWidth":0.6,"opacity":0.6},"encoding":{"x":{"field":"e","type":"ordinal","scale":{"type":"point","padding":0.7,"domain":["La","Ce","Pr","Nd","Pm","Sm","Eu","Gd","Tb","Dy","Ho","Er","Tm","Yb","Lu"]},"axis":{"title":null}},"y":{"field":"v","type":"quantitative","scale":{"type":"log","domain":[1,100]},"axis":{"title":"Rock/Chondrite","values":[1,10,100],"format":"~g"}},"stroke":{"field":"s","type":"nominal","scale":{"domain":["MK93","MK96"],"range":["#111111","#888888"]},"legend":null},"order":{"value":null}}},
 {"transform":[{"filter":{"field":"s","oneOf":["MK93","MK96"]}}],"mark":{"type":"point","filled":true,"size":10,"opacity":1},"encoding":{"x":{"field":"e","type":"ordinal"},"y":{"field":"v","type":"quantitative"},"color":{"field":"s","type":"nominal","scale":{"domain":["MK93","MK96"],"range":["#111111","#888888"]},"legend":{"title":["Sheeted dyke","complex"],"orient":"none","legendX":60,"legendY":59.5,"columns":1}},"shape":{"field":"s","type":"nominal","scale":{"domain":["MK93","MK96"],"range":["square","triangle-up"]}}}},
 {"transform":[{"filter":{"field":"s","oneOf":["MK6","MK10","MK8","MK11","MK9","MK110"]}}],"mark":{"type":"line","strokeWidth":0.6,"opacity":0.55},"encoding":{"x":{"field":"e","type":"ordinal"},"y":{"field":"v","type":"quantitative"},"stroke":{"field":"s","type":"nominal","scale":{"domain":["MK6","MK10","MK8","MK11","MK9","MK110"],"range":["#e3262b","#5cb6d6","#58b047","#f08a2a","#2c48a8","#c640b6"]},"legend":null},"order":{"value":null}}},
 {"transform":[{"filter":{"field":"s","oneOf":["MK6","MK10","MK8","MK11","MK9","MK110"]}}],"mark":{"type":"point","filled":true,"size":10,"opacity":1},"encoding":{"x":{"field":"e","type":"ordinal"},"y":{"field":"v","type":"quantitative"},"color":{"field":"s","type":"nominal","scale":{"domain":["MK6","MK10","MK8","MK11","MK9","MK110"],"range":["#e3262b","#5cb6d6","#58b047","#f08a2a","#2c48a8","#c640b6"]},"legend":{"title":["Volcanic","sequence"],"orient":"none","legendX":3,"legendY":57.5,"columns":2,"rowPadding":0,"columnPadding":8}},"shape":{"field":"s","type":"nominal","scale":{"domain":["MK6","MK10","MK8","MK11","MK9","MK110"],"range":["square","circle","square","square","triangle-up","square"]}}}},
 {"data":{"name":"emc"},"mark":{"type":"line","strokeWidth":1.8},"encoding":{"x":{"field":"e","type":"ordinal"},"y":{"field":"v","type":"quantitative"},"order":{"value":null},"color":{"datum":"E-MORB","type":"nominal","scale":{"range":["#111111"]},"legend":{"title":null,"orient":"none","legendX":104,"legendY":76,"symbolSize":200,"symbolStrokeWidth":2,"labelFontSize":6,"labelOffset":3}}}},
 {"data":{"values":[{}]},"mark":{"type":"text","fontSize":6,"dx":3},"encoding":{"x":{"datum":"Gd","type":"ordinal"},"y":{"datum":81,"type":"quantitative"},"text":{"value":"Subtype-IIb"}}},
 {"data":{"values":[{}]},"mark":{"type":"square","size":85,"color":"#000","opacity":1},"encoding":{"x":{"datum":"Lu","type":"ordinal"},"y":{"datum":77.6,"type":"quantitative"}}},
 {"data":{"values":[{}]},"mark":{"type":"text","fontSize":8,"fontWeight":"bold","color":"#fff","baseline":"middle"},"encoding":{"x":{"datum":"Lu","type":"ordinal"},"y":{"datum":77.6,"type":"quantitative"},"text":{"value":"h"}}}
],"resolve":{"scale":{"color":"independent","shape":"independent","stroke":"independent"}}},
{"width":154,"height":93,"data":{"name":"i"},"layer":[
 {"transform":[{"filter":{"field":"s","oneOf":["MK86","MK104","MK105","MK109","MK112"]}}],"mark":{"type":"line","strokeWidth":0.6,"opacity":0.55},"encoding":{"x":{"field":"e","type":"ordinal","scale":{"type":"point","padding":0.7,"domain":["La","Ce","Pr","Nd","Pm","Sm","Eu","Gd","Tb","Dy","Ho","Er","Tm","Yb","Lu"]},"axis":{"title":null}},"y":{"field":"v","type":"quantitative","scale":{"type":"log","domain":[1,100]},"axis":{"title":"Rock/Chondrite","values":[1,10,100],"format":"~g"}},"stroke":{"field":"s","type":"nominal","scale":{"domain":["MK86","MK104","MK105","MK109","MK112"],"range":["#e3262b","#58b047","#2c48a8","#5cb6d6","#9c4f90"]},"legend":null},"order":{"value":null}}},
 {"transform":[{"filter":{"field":"s","oneOf":["MK86","MK104","MK105","MK109","MK112"]}}],"mark":{"type":"point","filled":true,"size":10,"opacity":1},"encoding":{"x":{"field":"e","type":"ordinal"},"y":{"field":"v","type":"quantitative"},"color":{"field":"s","type":"nominal","scale":{"domain":["MK86","MK104","MK105","MK109","MK112"],"range":["#e3262b","#58b047","#2c48a8","#5cb6d6","#9c4f90"]},"legend":{"title":["Volcanic","sequence"],"orient":"none","legendX":8,"legendY":45.5,"columns":1,"rowPadding":2.2}},"shape":{"field":"s","type":"nominal","scale":{"domain":["MK86","MK104","MK105","MK109","MK112"],"range":["square","square","triangle-up","square","cross"]}}}},
 {"data":{"name":"emc"},"mark":{"type":"line","strokeWidth":1.8},"encoding":{"x":{"field":"e","type":"ordinal"},"y":{"field":"v","type":"quantitative"},"order":{"value":null},"color":{"datum":"E-MORB","type":"nominal","scale":{"range":["#111111"]},"legend":{"title":null,"orient":"none","legendX":106,"legendY":78,"symbolSize":200,"symbolStrokeWidth":2,"labelFontSize":6,"labelOffset":3}}}},
 {"data":{"values":[{}]},"mark":{"type":"text","fontSize":6},"encoding":{"x":{"datum":"Eu","type":"ordinal"},"y":{"datum":71,"type":"quantitative"},"text":{"value":"Subtype-IIc"}}},
 {"data":{"values":[{}]},"mark":{"type":"square","size":85,"color":"#000","opacity":1},"encoding":{"x":{"datum":"Lu","type":"ordinal"},"y":{"datum":77,"type":"quantitative"}}},
 {"data":{"values":[{}]},"mark":{"type":"text","fontSize":8,"fontWeight":"bold","color":"#fff","baseline":"middle"},"encoding":{"x":{"datum":"Lu","type":"ordinal"},"y":{"datum":77,"type":"quantitative"},"text":{"value":"i"}}}
],"resolve":{"scale":{"color":"independent","shape":"independent","stroke":"independent"}}},
{"width":154,"height":93,"data":{"name":"j"},"layer":[
 {"transform":[{"filter":{"field":"s","oneOf":["MK87","MK24","MK26","MK37a","MK37b"]}}],"mark":{"type":"line","strokeWidth":0.6,"opacity":0.6},"encoding":{"x":{"field":"e","type":"ordinal","scale":{"type":"point","padding":0.7,"domain":["La","Ce","Pr","Nd","Pm","Sm","Eu","Gd","Tb","Dy","Ho","Er","Tm","Yb","Lu"]},"axis":{"title":null}},"y":{"field":"v","type":"quantitative","scale":{"type":"log","domain":[1,100]},"axis":{"title":"Rock/Chondrite","values":[1,10,100],"format":"~g"}},"stroke":{"field":"s","type":"nominal","scale":{"domain":["MK87","MK24","MK26","MK37a","MK37b"],"range":["#aaaaaa","#999999","#888888","#111111","#888888"]},"legend":null},"order":{"value":null}}},
 {"transform":[{"filter":{"field":"s","oneOf":["MK87","MK24","MK26","MK37a","MK37b"]}}],"mark":{"type":"point","filled":true,"size":10,"opacity":1},"encoding":{"x":{"field":"e","type":"ordinal"},"y":{"field":"v","type":"quantitative"},"color":{"field":"s","type":"nominal","scale":{"domain":["MK87","MK24","MK26","MK37a","MK37b"],"range":["#aaaaaa","#999999","#888888","#111111","#888888"]},"legend":{"title":["Sheeted dyke","complex"],"orient":"none","legendX":40,"legendY":45.5,"columns":1,"rowPadding":1.5}},"shape":{"field":"s","type":"nominal","scale":{"domain":["MK87","MK24","MK26","MK37a","MK37b"],"range":["M-1,-1H1V1H-1Z M-0.5,-0.5V0.5H0.5V-0.5Z","circle","triangle-up","circle","square"]}}}},
 {"transform":[{"filter":{"field":"s","oneOf":["MK12"]}}],"mark":{"type":"line","strokeWidth":0.6,"opacity":0.55},"encoding":{"x":{"field":"e","type":"ordinal"},"y":{"field":"v","type":"quantitative"},"stroke":{"field":"s","type":"nominal","scale":{"domain":["MK12"],"range":["#e3262b"]},"legend":null},"order":{"value":null}}},
 {"transform":[{"filter":{"field":"s","oneOf":["MK12"]}}],"mark":{"type":"point","filled":true,"size":10,"opacity":1},"encoding":{"x":{"field":"e","type":"ordinal"},"y":{"field":"v","type":"quantitative"},"color":{"field":"s","type":"nominal","scale":{"domain":["MK12"],"range":["#e3262b"]},"legend":{"title":["Volcanic","sequence"],"orient":"none","legendX":5,"legendY":47.5,"columns":1}},"shape":{"field":"s","type":"nominal","scale":{"domain":["MK12"],"range":["square"]}}}},
 {"data":{"name":"emc"},"mark":{"type":"line","strokeWidth":1.8},"encoding":{"x":{"field":"e","type":"ordinal"},"y":{"field":"v","type":"quantitative"},"order":{"value":null},"color":{"datum":"E-MORB","type":"nominal","scale":{"range":["#111111"]},"legend":{"title":null,"orient":"none","legendX":106,"legendY":79,"symbolSize":200,"symbolStrokeWidth":2,"labelFontSize":6,"labelOffset":3}}}},
 {"data":{"values":[{}]},"mark":{"type":"text","fontSize":6,"dx":5},"encoding":{"x":{"datum":"Eu","type":"ordinal"},"y":{"datum":71,"type":"quantitative"},"text":{"value":"Subtype-IId"}}},
 {"data":{"values":[{}]},"mark":{"type":"square","size":85,"color":"#000","opacity":1},"encoding":{"x":{"datum":"Lu","type":"ordinal"},"y":{"datum":77,"type":"quantitative"}}},
 {"data":{"values":[{}]},"mark":{"type":"text","fontSize":8,"fontWeight":"bold","color":"#fff","baseline":"middle"},"encoding":{"x":{"datum":"Lu","type":"ordinal"},"y":{"datum":77,"type":"quantitative"},"text":{"value":"j"}}}
],"resolve":{"scale":{"color":"independent","shape":"independent","stroke":"independent"}}}
]
}
